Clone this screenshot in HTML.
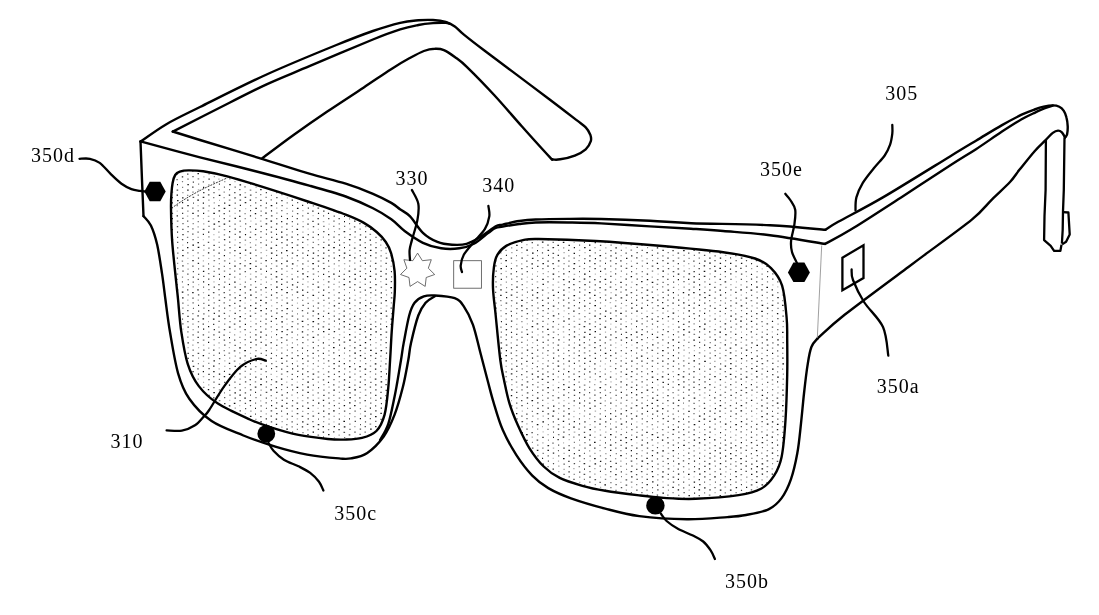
<!DOCTYPE html><html><head><meta charset="utf-8"><style>html,body{margin:0;padding:0;background:#fff}svg{display:block;will-change:transform}text{font-family:"Liberation Serif",serif;font-size:20px;letter-spacing:1px;fill:#000}</style></head><body>
<svg width="1099" height="615" viewBox="0 0 1099 615">
<rect width="1099" height="615" fill="#fff"/>
<path d="M171.4 208.4h1.4M176.7 211.0h1.0M177.2 295.1h1.0M182.3 245.2h1.0M182.5 329.1h1.0M186.9 216.0h1.4M187.4 258.3h1.0M187.2 263.7h1.4M187.3 269.0h1.6M187.2 300.1h1.2M187.3 305.3h1.6M187.5 347.5h1.2M192.6 255.5h1.2M192.4 329.6h1.6M192.5 340.2h1.6M197.8 189.8h1.6M197.5 205.7h1.2M197.4 226.9h1.6M198.2 284.5h1.0M198.0 347.6h1.2M197.4 379.2h1.6M197.6 384.7h1.2M203.3 176.8h1.2M202.9 218.6h1.0M203.0 223.9h1.4M202.8 239.6h1.0M203.1 250.2h1.4M202.6 255.7h1.6M202.8 260.9h1.2M202.9 292.6h1.2M203.0 297.9h1.6M202.9 345.0h1.4M203.2 361.3h1.0M202.8 376.7h1.4M203.1 382.4h1.0M207.7 210.8h1.6M207.8 216.3h1.6M208.1 258.4h1.2M208.0 321.7h1.0M208.0 332.0h1.6M208.0 384.9h1.4M213.4 234.5h1.0M213.3 239.8h1.4M213.4 255.9h1.6M213.4 281.8h1.2M213.4 345.0h1.6M218.2 179.2h1.4M218.2 189.7h1.6M219.0 200.4h1.0M218.3 342.9h1.6M218.7 347.9h1.0M218.5 368.9h1.4M218.8 395.5h1.4M223.4 197.5h1.6M224.2 360.9h1.2M224.2 366.4h1.2M223.4 387.1h1.6M229.1 216.1h1.4M229.2 258.5h1.0M228.7 279.1h1.4M229.4 310.6h1.2M229.0 332.3h1.6M228.8 347.6h1.2M229.3 400.4h1.0M234.3 181.5h1.4M234.5 213.3h1.2M234.6 239.9h1.2M234.1 245.0h1.6M234.2 308.2h1.4M234.3 371.4h1.6M234.0 376.8h1.2M239.8 226.4h1.4M239.4 279.0h1.0M239.5 284.4h1.6M239.7 331.8h1.4M239.2 363.8h1.2M239.3 405.7h1.0M244.5 192.7h1.6M245.2 208.5h1.0M244.7 244.8h1.0M244.7 255.4h1.6M245.1 276.5h1.0M244.6 303.2h1.0M244.7 313.7h1.4M244.7 413.7h1.2M250.4 221.0h1.0M249.9 274.0h1.4M250.3 300.1h1.0M250.3 321.3h1.0M249.9 353.4h1.2M255.0 318.9h1.6M254.8 371.6h1.4M259.9 221.0h1.6M260.6 247.7h1.0M260.4 263.4h1.6M260.5 274.0h1.6M260.6 279.5h1.0M260.3 348.0h1.0M260.8 358.7h1.0M260.1 363.6h1.6M260.4 374.3h1.4M260.1 400.8h1.2M265.8 250.3h1.4M266.1 255.5h1.0M265.5 292.4h1.4M265.4 339.7h1.2M265.6 413.9h1.4M270.8 279.1h1.4M271.1 305.9h1.2M271.1 331.7h1.0M270.5 374.4h1.4M276.1 208.1h1.2M276.1 350.2h1.2M275.6 361.3h1.4M276.4 376.5h1.0M280.9 347.8h1.6M281.2 416.3h1.4M281.4 421.6h1.6M286.8 197.8h1.0M286.3 208.3h1.4M286.3 271.4h1.4M286.5 276.6h1.4M286.6 324.2h1.0M286.9 376.7h1.0M286.2 382.2h1.2M291.3 274.3h1.4M291.4 337.5h1.4M291.5 411.0h1.4M296.6 265.8h1.2M296.9 303.0h1.0M296.6 361.0h1.2M296.8 382.1h1.0M297.1 397.8h1.2M296.7 418.8h1.4M302.3 210.7h1.2M302.5 221.6h1.2M302.2 232.2h1.4M301.8 400.6h1.6M307.6 229.0h1.0M307.3 244.8h1.0M307.6 266.4h1.0M307.1 271.5h1.6M307.4 281.9h1.2M307.2 329.7h1.6M307.4 345.5h1.0M307.1 366.1h1.2M312.6 215.7h1.0M312.3 289.8h1.4M312.5 300.5h1.2M312.3 369.2h1.6M312.3 411.3h1.4M317.8 229.3h1.0M317.7 239.5h1.4M317.8 340.1h1.4M317.7 398.0h1.6M317.6 408.4h1.0M322.8 221.6h1.6M323.0 279.5h1.2M323.3 284.6h1.0M323.3 337.1h1.2M323.1 363.4h1.6M322.6 368.7h1.4M328.6 224.0h1.0M328.2 308.3h1.2M328.4 339.7h1.2M328.2 355.4h1.6M328.3 408.6h1.6M328.3 419.2h1.6M333.7 268.8h1.0M333.2 284.4h1.6M333.6 295.2h1.4M333.6 300.5h1.4M333.8 326.7h1.2M333.5 421.8h1.0M333.9 437.6h1.0M338.2 213.2h1.6M338.3 265.8h1.4M338.6 313.6h1.6M338.9 334.5h1.4M338.4 435.0h1.6M343.9 263.5h1.4M344.1 268.9h1.2M344.0 305.5h1.2M343.6 332.0h1.2M343.8 358.6h1.0M344.2 416.4h1.0M354.3 242.6h1.2M354.5 253.1h1.2M354.6 295.3h1.2M354.6 332.1h1.0M354.4 379.8h1.4M354.1 416.6h1.6M354.6 437.4h1.0M359.5 282.1h1.4M359.5 297.9h1.6M359.7 392.4h1.4M359.9 413.9h1.2M364.9 406.1h1.4M370.2 297.5h1.0M369.7 319.0h1.2M370.1 360.7h1.0M369.7 377.2h1.2M375.5 300.4h1.0M375.1 337.4h1.0M375.3 342.6h1.4M380.5 250.6h1.6M380.2 281.7h1.2M380.3 308.4h1.4M380.6 361.2h1.2M385.4 290.1h1.6M385.8 305.9h1.6M385.8 321.8h1.2M385.3 369.1h1.6M390.6 266.3h1.2M391.1 329.4h1.4M495.3 297.5h1.0M500.1 252.9h1.6M500.7 263.4h1.2M500.1 310.6h1.6M500.5 316.1h1.4M505.5 271.4h1.2M505.5 366.3h1.4M505.8 381.9h1.4M510.9 263.3h1.2M511.0 400.7h1.0M515.8 260.5h1.4M516.0 324.3h1.4M516.4 387.0h1.2M515.9 408.2h1.6M521.3 252.6h1.2M521.7 411.0h1.2M526.2 244.7h1.4M526.8 255.3h1.6M526.8 277.0h1.0M526.4 281.9h1.4M526.3 287.5h1.2M526.8 323.9h1.0M526.2 366.2h1.6M526.2 423.9h1.4M531.7 247.8h1.4M532.0 274.1h1.0M532.1 342.5h1.2M531.6 437.2h1.4M537.0 239.7h1.0M537.1 271.7h1.0M536.6 281.9h1.6M536.6 318.5h1.6M537.4 334.9h1.2M541.9 247.6h1.6M542.2 358.4h1.6M542.1 363.7h1.6M541.9 384.5h1.6M542.5 416.2h1.4M542.0 426.5h1.0M542.6 431.8h1.0M542.2 442.9h1.4M547.6 271.5h1.4M547.3 287.5h1.0M547.7 292.8h1.4M547.5 403.4h1.0M547.5 434.5h1.2M552.5 311.2h1.2M552.6 385.0h1.0M552.3 400.4h1.6M552.8 448.0h1.4M552.7 458.3h1.0M558.0 250.2h1.2M557.7 266.1h1.6M558.1 271.7h1.2M557.6 282.1h1.6M558.1 287.3h1.4M557.4 308.5h1.6M557.6 318.7h1.6M558.3 382.3h1.0M558.1 392.3h1.0M558.1 403.0h1.6M558.1 413.4h1.0M557.9 461.1h1.2M558.0 466.1h1.6M558.1 471.6h1.4M563.4 252.7h1.4M563.6 310.9h1.0M563.2 316.5h1.0M562.8 331.9h1.4M563.0 337.1h1.6M563.3 342.4h1.2M563.3 348.1h1.0M563.4 400.6h1.2M563.1 442.9h1.0M563.4 453.3h1.4M563.3 469.3h1.6M568.3 276.9h1.0M568.6 292.2h1.0M568.5 381.8h1.4M568.6 439.7h1.2M573.5 242.4h1.4M573.6 274.3h1.6M573.5 321.3h1.6M573.4 405.6h1.4M573.5 411.3h1.2M573.3 416.6h1.2M573.7 432.0h1.6M573.2 468.7h1.4M578.9 250.3h1.4M578.3 260.6h1.6M579.0 276.7h1.0M578.7 319.1h1.6M578.8 329.0h1.2M579.1 413.7h1.2M579.0 482.4h1.4M584.4 252.6h1.2M584.2 310.7h1.2M584.3 379.4h1.4M588.9 319.0h1.4M589.0 366.4h1.2M589.0 418.7h1.2M589.5 424.6h1.2M589.6 460.9h1.0M594.8 274.2h1.0M594.7 379.7h1.2M594.7 411.2h1.4M594.4 431.9h1.2M594.0 437.4h1.6M594.1 453.3h1.6M599.3 292.6h1.4M599.6 366.1h1.2M599.4 371.7h1.6M599.6 429.8h1.2M599.6 440.3h1.2M599.4 450.6h1.4M600.1 477.1h1.0M600.0 487.3h1.2M604.6 242.6h1.4M605.1 247.8h1.4M605.1 274.1h1.4M604.7 305.8h1.2M604.9 332.1h1.2M604.8 363.9h1.0M605.1 432.1h1.4M604.9 474.6h1.6M610.1 271.5h1.4M610.5 292.5h1.2M609.7 302.7h1.4M610.4 308.0h1.2M610.4 324.0h1.0M609.7 366.4h1.6M610.2 371.5h1.2M610.4 381.9h1.2M610.0 408.5h1.2M609.8 476.6h1.4M615.0 279.3h1.2M615.2 342.8h1.2M615.3 347.5h1.0M615.6 373.8h1.2M615.4 384.6h1.6M615.3 421.8h1.6M620.5 255.7h1.4M620.3 276.7h1.2M620.4 308.1h1.4M620.8 345.0h1.0M620.6 356.0h1.0M620.9 429.3h1.2M620.3 482.3h1.2M620.4 493.1h1.0M625.6 247.9h1.0M625.5 305.6h1.6M625.6 321.5h1.0M625.9 379.1h1.6M625.6 458.4h1.4M625.6 474.3h1.6M630.8 261.1h1.2M631.2 282.1h1.4M630.6 287.4h1.4M630.9 319.0h1.2M631.1 329.1h1.0M631.4 345.2h1.0M631.0 355.8h1.0M631.1 403.2h1.6M631.0 487.2h1.4M636.4 316.2h1.0M636.4 411.2h1.4M636.4 421.9h1.0M636.4 442.8h1.0M636.1 463.9h1.4M641.6 260.9h1.6M641.4 276.7h1.6M641.5 450.7h1.4M646.9 268.6h1.4M646.5 284.6h1.4M646.5 311.0h1.0M646.8 395.5h1.6M647.1 416.2h1.0M646.5 426.8h1.6M646.7 437.5h1.2M651.6 277.0h1.4M651.6 329.3h1.2M652.2 339.6h1.2M651.8 356.0h1.2M651.9 445.4h1.6M657.6 274.2h1.0M657.2 295.0h1.4M656.7 310.7h1.6M657.2 368.9h1.2M656.9 374.2h1.4M657.5 385.0h1.0M657.0 442.9h1.6M662.3 345.4h1.0M662.5 392.9h1.2M662.7 445.5h1.2M662.4 466.4h1.6M662.4 481.9h1.2M667.5 274.0h1.4M667.0 311.2h1.6M667.6 321.2h1.4M667.8 326.8h1.4M667.9 337.2h1.2M667.4 405.5h1.4M667.6 453.3h1.6M672.9 266.4h1.2M672.6 308.5h1.2M672.6 324.4h1.0M672.9 329.5h1.0M672.4 371.5h1.4M673.2 466.1h1.0M678.0 284.7h1.0M678.2 289.6h1.0M677.8 310.7h1.0M677.6 395.0h1.6M678.1 416.7h1.0M683.5 265.9h1.0M683.2 297.8h1.0M683.3 350.2h1.6M683.4 355.8h1.2M682.8 408.8h1.4M683.2 450.4h1.0M683.5 477.2h1.0M688.6 268.6h1.2M688.7 337.1h1.0M688.1 347.5h1.4M688.1 358.1h1.6M688.3 405.9h1.2M688.2 469.1h1.6M688.5 490.0h1.4M693.7 297.8h1.0M693.8 350.7h1.0M693.4 419.3h1.2M693.6 476.9h1.0M699.3 374.1h1.0M698.8 406.0h1.4M698.9 411.0h1.0M699.0 432.3h1.2M698.7 448.0h1.2M704.1 350.5h1.2M704.0 366.3h1.0M703.9 392.8h1.6M703.8 397.8h1.6M704.2 450.3h1.4M704.2 497.7h1.4M709.2 315.9h1.4M709.3 326.7h1.2M709.4 400.3h1.4M709.6 405.9h1.0M709.5 484.5h1.2M714.5 282.3h1.6M714.3 302.7h1.4M714.4 313.7h1.4M714.9 324.4h1.0M714.6 371.5h1.0M714.6 382.1h1.2M714.7 434.7h1.0M714.5 492.6h1.2M719.4 316.2h1.4M719.8 342.7h1.6M719.2 353.3h1.6M719.8 389.7h1.0M720.1 426.8h1.2M720.1 479.6h1.2M724.9 255.4h1.6M725.2 319.1h1.2M724.7 360.9h1.6M724.7 382.3h1.4M724.7 413.4h1.4M725.1 418.9h1.0M725.2 471.9h1.4M724.5 487.2h1.6M730.2 284.5h1.4M730.2 295.2h1.2M730.3 342.8h1.6M730.3 400.3h1.4M730.1 431.9h1.0M729.7 469.4h1.6M735.4 276.9h1.0M735.9 281.8h1.0M735.1 287.4h1.6M735.2 308.4h1.0M735.6 371.3h1.2M735.2 387.3h1.4M734.9 440.1h1.6M740.7 295.0h1.2M741.0 332.1h1.0M740.5 342.3h1.4M740.5 400.4h1.6M746.1 276.4h1.0M745.5 381.8h1.4M745.6 413.6h1.4M745.9 482.0h1.2M750.8 374.0h1.6M751.1 379.6h1.6M751.2 395.2h1.2M751.1 405.8h1.0M751.3 416.3h1.2M756.1 339.8h1.6M756.0 382.4h1.4M756.0 397.9h1.2M756.4 403.3h1.6M756.2 413.6h1.0M756.3 418.9h1.0M756.5 487.1h1.4M761.4 263.6h1.6M761.7 268.8h1.0M761.3 353.3h1.4M761.6 379.2h1.2M761.3 426.6h1.4M761.3 479.8h1.6M766.9 303.3h1.2M766.7 318.5h1.0M766.5 366.5h1.0M766.7 387.2h1.2M766.5 429.8h1.4M772.4 284.8h1.0M771.8 316.0h1.2M771.8 331.8h1.0M771.9 358.6h1.6M771.8 384.4h1.6M771.5 468.9h1.6M777.3 286.9h1.0M777.3 324.0h1.6M777.3 387.2h1.4M777.1 466.6h1.0M781.9 295.2h1.6M782.2 337.1h1.2M782.7 400.8h1.0" stroke="#111" stroke-width="1.25" opacity="0.35" fill="none"/>
<path d="M171.5 187.1h1.0M172.0 192.2h1.2M171.3 234.5h1.4M176.3 179.5h1.6M176.8 221.2h1.6M177.1 253.0h1.4M177.2 263.3h1.0M176.6 274.0h1.6M176.8 279.4h1.0M176.6 284.7h1.4M181.9 181.7h1.2M182.0 187.4h1.2M182.4 192.7h1.0M182.2 223.7h1.6M181.7 261.2h1.4M181.9 277.0h1.2M182.4 287.1h1.2M182.0 334.6h1.0M187.1 195.3h1.2M187.3 211.0h1.2M187.4 226.7h1.6M186.9 237.3h1.4M187.1 252.8h1.4M187.6 279.6h1.2M187.5 294.8h1.4M187.1 321.7h1.6M187.2 331.9h1.4M187.0 363.5h1.4M192.0 171.1h1.6M192.6 218.6h1.0M192.6 223.7h1.2M192.1 228.9h1.6M192.3 239.5h1.6M192.6 286.9h1.2M192.2 313.7h1.4M192.4 324.2h1.2M192.4 345.1h1.0M192.4 350.2h1.6M197.6 178.9h1.6M198.0 184.2h1.2M197.6 237.4h1.0M197.4 252.8h1.4M197.7 300.2h1.0M197.8 321.7h1.4M198.1 358.0h1.0M197.8 363.7h1.2M203.1 245.3h1.6M202.6 266.1h1.6M203.1 303.4h1.4M203.2 308.1h1.4M202.8 340.1h1.6M202.9 387.3h1.6M208.4 173.8h1.4M208.3 184.8h1.2M208.3 200.2h1.2M208.3 226.4h1.4M208.2 236.9h1.4M208.1 248.0h1.6M207.9 273.7h1.6M208.2 289.7h1.4M208.2 316.2h1.2M208.3 348.1h1.0M208.6 353.4h1.0M207.9 358.0h1.4M208.2 363.3h1.2M213.8 176.7h1.0M213.0 197.5h1.4M213.7 202.9h1.0M213.5 218.8h1.0M213.5 260.6h1.6M213.2 266.4h1.2M213.5 271.4h1.4M213.2 297.8h1.0M213.5 302.8h1.4M213.5 339.7h1.2M213.2 382.0h1.6M213.2 387.6h1.4M219.0 216.1h1.0M218.6 226.3h1.6M218.4 232.1h1.0M218.6 237.2h1.0M218.6 242.4h1.0M218.4 258.6h1.6M218.8 263.5h1.0M218.5 294.8h1.4M218.7 305.9h1.2M218.3 321.4h1.6M218.4 327.0h1.0M218.6 363.7h1.4M218.8 389.9h1.4M218.8 400.5h1.6M223.7 176.4h1.0M224.3 181.7h1.0M223.6 192.2h1.2M223.8 229.5h1.4M223.7 234.9h1.4M223.9 245.1h1.4M223.9 260.8h1.6M223.8 271.2h1.4M224.1 282.1h1.4M224.0 318.6h1.6M224.1 324.1h1.2M224.0 392.9h1.0M228.8 200.1h1.6M229.3 252.8h1.4M229.4 268.5h1.2M228.9 290.0h1.4M229.1 300.1h1.4M228.8 316.1h1.2M228.5 353.0h1.6M229.2 358.1h1.0M229.1 368.7h1.4M229.0 390.3h1.4M229.2 395.1h1.6M234.4 187.1h1.6M234.5 208.4h1.2M234.3 224.1h1.6M234.3 255.5h1.0M234.3 261.2h1.2M234.0 271.2h1.4M234.4 292.5h1.0M234.0 318.6h1.6M234.5 329.3h1.0M234.2 334.8h1.0M234.7 356.0h1.0M233.8 361.0h1.6M234.1 382.0h1.6M234.7 408.2h1.0M239.4 221.2h1.6M239.2 242.6h1.6M239.6 257.9h1.4M239.2 310.7h1.4M239.4 337.4h1.0M239.8 342.7h1.0M239.3 352.8h1.0M239.5 379.2h1.2M245.1 181.8h1.0M244.2 186.8h1.6M244.5 213.5h1.2M244.6 218.6h1.2M245.0 228.9h1.0M244.7 240.1h1.4M244.6 260.7h1.2M244.5 318.5h1.4M244.9 334.9h1.0M244.4 339.7h1.6M244.7 344.9h1.2M244.6 371.4h1.2M244.6 377.0h1.4M244.7 387.5h1.0M250.2 184.4h1.0M249.7 190.0h1.6M250.0 205.6h1.2M249.9 232.1h1.4M249.8 242.5h1.0M249.9 247.4h1.4M249.9 279.2h1.4M250.2 284.8h1.4M249.7 310.9h1.2M250.2 326.7h1.2M249.8 332.3h1.0M250.3 411.1h1.2M255.6 187.1h1.0M255.5 197.6h1.0M255.1 218.4h1.0M255.6 239.7h1.0M255.1 245.1h1.2M255.4 255.6h1.4M255.2 261.0h1.6M255.2 271.6h1.6M255.2 292.1h1.6M254.7 313.3h1.6M255.3 323.9h1.6M255.0 329.5h1.6M255.1 366.6h1.4M254.8 381.9h1.4M255.4 419.3h1.0M260.4 215.7h1.4M260.2 231.6h1.6M260.1 237.4h1.6M260.1 242.6h1.6M260.6 252.7h1.0M260.5 258.1h1.6M260.4 284.4h1.2M260.3 289.8h1.6M260.7 294.9h1.0M260.6 316.1h1.0M260.6 353.3h1.4M260.6 390.0h1.0M260.4 411.0h1.4M265.8 240.0h1.2M265.9 282.0h1.0M265.5 297.4h1.6M265.3 371.5h1.6M265.6 387.0h1.4M265.4 402.8h1.6M270.9 195.3h1.0M270.6 199.9h1.4M270.9 242.1h1.2M271.2 263.6h1.0M270.4 268.5h1.6M270.6 284.5h1.0M270.7 300.1h1.0M271.0 337.1h1.0M270.7 348.1h1.0M276.0 192.5h1.4M276.3 213.2h1.2M276.0 218.5h1.4M275.9 266.0h1.6M276.2 308.5h1.6M276.1 324.4h1.2M276.4 339.9h1.2M276.2 371.3h1.0M275.7 398.1h1.2M281.2 194.7h1.4M281.0 210.5h1.6M281.3 226.8h1.2M281.6 247.9h1.2M281.4 258.2h1.2M281.4 295.3h1.0M281.6 300.2h1.0M281.0 305.5h1.2M280.9 374.1h1.6M281.4 427.1h1.0M286.6 202.8h1.2M286.6 213.6h1.2M286.1 234.8h1.6M286.3 319.1h1.2M286.7 345.0h1.0M286.8 350.2h1.2M286.5 366.4h1.6M286.6 419.1h1.4M286.1 424.5h1.4M292.0 211.1h1.2M291.8 226.3h1.0M291.6 258.1h1.2M291.3 289.7h1.4M291.9 294.8h1.0M291.6 300.2h1.4M291.8 311.0h1.2M291.7 321.6h1.6M291.9 342.8h1.0M291.5 352.8h1.4M291.3 384.8h1.6M291.5 395.0h1.0M291.5 426.8h1.4M297.1 239.5h1.6M297.2 260.6h1.2M297.0 308.3h1.4M297.0 313.9h1.0M297.1 329.1h1.2M297.1 334.8h1.0M296.5 339.7h1.4M297.1 344.8h1.0M297.0 350.6h1.2M296.8 429.3h1.2M302.0 215.8h1.4M302.2 284.4h1.2M302.1 300.3h1.2M302.1 316.1h1.6M302.3 379.3h1.4M302.3 411.4h1.0M307.5 219.0h1.4M306.9 239.7h1.6M307.4 261.2h1.4M307.4 286.9h1.0M307.3 297.9h1.0M307.4 303.3h1.6M307.1 319.1h1.4M307.4 324.5h1.4M306.9 334.8h1.6M307.3 339.9h1.2M307.3 413.6h1.6M307.3 429.8h1.2M312.7 205.9h1.4M312.6 232.2h1.4M312.6 242.4h1.4M312.7 274.0h1.6M312.4 315.9h1.4M312.3 326.6h1.6M312.6 358.2h1.4M312.4 390.2h1.0M312.5 395.0h1.2M312.3 405.7h1.6M312.1 421.6h1.6M317.8 244.7h1.4M317.7 250.6h1.2M317.7 271.6h1.2M318.0 276.3h1.0M318.0 292.4h1.4M317.8 298.1h1.0M317.8 360.9h1.2M317.6 366.3h1.2M317.6 371.8h1.6M317.6 377.1h1.6M317.8 382.0h1.0M317.4 392.8h1.6M317.5 435.0h1.6M323.1 226.3h1.6M322.9 237.1h1.0M322.8 263.3h1.6M323.2 300.4h1.4M323.4 305.9h1.0M323.2 311.2h1.2M323.3 321.6h1.2M323.0 358.6h1.4M323.3 374.4h1.0M323.3 384.7h1.2M323.1 390.1h1.6M323.2 421.5h1.0M328.1 229.0h1.0M328.2 239.8h1.2M328.2 266.4h1.4M328.1 271.5h1.2M328.2 292.5h1.6M328.5 318.8h1.2M328.3 324.0h1.4M328.2 334.3h1.4M328.3 350.8h1.2M328.4 366.4h1.2M328.5 387.2h1.0M328.1 392.8h1.6M328.0 398.2h1.6M327.9 429.5h1.4M333.1 226.4h1.4M333.9 231.7h1.0M333.7 263.8h1.2M333.8 279.1h1.2M333.4 289.8h1.0M333.7 311.0h1.0M333.2 337.5h1.2M333.4 358.5h1.6M333.4 400.5h1.2M333.6 416.4h1.0M338.7 228.9h1.4M338.3 234.5h1.6M338.7 282.2h1.0M338.7 286.9h1.0M338.4 308.3h1.2M338.5 350.1h1.0M338.7 381.9h1.0M338.8 392.4h1.0M338.7 398.1h1.4M338.7 413.6h1.0M344.1 237.3h1.2M343.5 242.5h1.4M343.9 289.6h1.0M343.7 337.3h1.2M343.9 353.1h1.0M344.0 368.9h1.4M343.8 395.3h1.2M343.8 400.3h1.0M349.1 218.9h1.0M349.5 229.0h1.0M349.1 250.3h1.2M348.9 260.9h1.6M349.1 266.2h1.0M349.0 292.5h1.0M349.2 308.5h1.6M349.3 313.9h1.0M348.8 329.4h1.6M349.5 345.5h1.0M349.0 350.7h1.4M349.0 355.8h1.4M349.2 371.8h1.2M349.1 413.5h1.4M349.2 424.2h1.4M354.4 237.2h1.2M354.3 263.2h1.0M354.5 305.7h1.0M354.2 321.2h1.4M354.4 358.4h1.6M354.3 374.1h1.2M354.1 385.0h1.6M354.3 395.0h1.6M354.4 426.6h1.0M359.8 266.1h1.4M359.7 292.2h1.4M359.3 334.4h1.4M359.4 339.8h1.0M359.8 360.8h1.0M359.5 371.2h1.2M359.4 402.9h1.4M359.8 408.5h1.2M364.9 226.6h1.6M364.5 242.7h1.4M365.0 273.7h1.4M364.6 284.3h1.4M365.0 295.2h1.4M364.9 300.3h1.4M364.8 311.0h1.4M365.2 316.5h1.0M364.9 321.4h1.2M364.6 353.3h1.0M365.0 363.6h1.4M364.8 389.8h1.4M364.9 395.4h1.6M364.4 432.0h1.6M369.5 234.4h1.6M370.2 261.1h1.0M369.8 313.6h1.0M369.8 366.2h1.4M369.7 371.6h1.4M370.0 398.1h1.2M369.6 424.2h1.6M375.4 242.5h1.2M375.1 257.9h1.6M374.8 295.1h1.6M374.9 315.9h1.6M374.9 321.8h1.4M375.4 348.0h1.0M375.1 400.4h1.6M380.3 245.1h1.0M380.4 255.8h1.4M380.5 260.8h1.0M380.4 266.1h1.2M380.7 287.1h1.4M380.4 318.8h1.4M380.3 344.9h1.0M380.3 356.0h1.2M385.6 253.3h1.0M386.1 294.9h1.0M385.7 337.4h1.2M385.6 358.5h1.0M385.5 379.7h1.0M390.8 302.9h1.0M391.1 313.6h1.4M495.3 260.8h1.2M495.3 281.8h1.4M495.4 286.9h1.6M495.3 303.1h1.4M495.6 313.4h1.0M500.3 284.9h1.2M500.1 300.6h1.4M500.7 305.3h1.0M500.3 327.1h1.4M500.4 337.2h1.4M500.2 353.2h1.6M505.3 250.4h1.4M505.9 276.9h1.2M505.8 282.0h1.0M506.1 287.5h1.0M505.6 308.6h1.2M505.6 319.1h1.2M505.5 387.3h1.0M511.1 247.8h1.2M511.4 252.7h1.0M511.2 284.6h1.2M510.9 300.6h1.6M510.9 305.8h1.0M510.7 342.9h1.0M511.3 363.9h1.0M511.0 379.6h1.6M511.4 384.6h1.0M511.0 405.8h1.6M516.0 250.4h1.6M516.0 255.7h1.0M516.1 265.9h1.4M516.3 281.6h1.6M516.1 308.5h1.6M516.0 313.3h1.2M516.4 318.8h1.2M516.3 339.9h1.6M515.8 350.7h1.4M515.7 355.5h1.6M516.0 376.7h1.2M515.8 382.0h1.4M521.3 263.8h1.0M521.7 295.1h1.2M521.1 316.3h1.4M521.3 321.6h1.2M521.8 327.0h1.0M521.2 337.3h1.6M521.0 342.4h1.6M521.6 347.6h1.0M521.3 353.0h1.6M521.8 379.5h1.0M521.8 395.3h1.0M526.3 266.5h1.6M526.8 297.7h1.0M526.4 302.7h1.2M526.3 318.5h1.4M526.2 329.6h1.6M526.9 340.2h1.0M526.8 345.1h1.2M526.8 355.7h1.2M526.2 377.1h1.4M527.1 408.3h1.0M531.4 279.3h1.6M531.8 284.3h1.0M531.4 300.3h1.6M531.4 305.6h1.6M531.9 310.8h1.0M532.2 315.9h1.0M531.6 347.6h1.4M531.8 368.7h1.0M532.0 384.5h1.6M532.1 395.3h1.2M532.1 405.6h1.0M532.2 416.2h1.2M532.1 426.8h1.0M531.9 442.4h1.0M537.0 255.7h1.0M536.9 276.4h1.0M537.0 302.8h1.2M536.9 345.3h1.2M536.8 356.0h1.6M537.4 361.1h1.0M537.0 387.1h1.6M537.4 418.9h1.0M537.2 429.2h1.0M537.1 434.7h1.2M537.2 445.1h1.2M542.0 258.4h1.6M542.1 268.6h1.6M542.7 273.7h1.0M542.1 295.0h1.0M542.0 331.8h1.4M542.3 337.2h1.4M542.1 353.0h1.2M541.9 368.8h1.6M542.1 395.4h1.0M542.0 400.3h1.4M542.5 453.3h1.4M547.5 276.7h1.0M547.3 313.4h1.4M547.3 324.1h1.0M547.2 355.4h1.2M547.6 360.8h1.4M547.8 424.5h1.2M547.9 440.0h1.0M547.4 466.6h1.4M552.6 284.8h1.0M553.0 300.4h1.0M552.8 332.0h1.6M552.9 347.8h1.0M552.8 353.2h1.6M552.4 363.3h1.4M552.9 369.2h1.2M552.2 395.5h1.6M552.8 426.9h1.4M558.1 276.5h1.6M557.8 297.8h1.4M558.2 324.4h1.0M557.7 329.4h1.0M557.7 334.6h1.2M558.0 355.9h1.4M557.7 376.8h1.0M558.1 408.6h1.4M557.8 424.5h1.6M557.9 434.5h1.6M563.1 247.9h1.2M563.5 263.6h1.2M562.8 326.9h1.4M563.3 353.3h1.0M563.1 363.8h1.2M562.8 379.7h1.4M563.1 411.0h1.6M562.9 427.1h1.4M563.3 474.4h1.6M568.4 255.8h1.0M568.0 266.2h1.6M568.2 313.5h1.2M568.6 355.5h1.4M568.7 366.2h1.2M568.2 376.9h1.6M568.4 403.4h1.0M568.3 429.6h1.6M573.4 258.0h1.6M573.6 289.9h1.4M573.5 316.3h1.0M573.7 326.8h1.6M573.9 342.8h1.0M573.5 353.0h1.4M573.5 358.4h1.2M573.8 368.8h1.2M573.8 442.3h1.2M573.5 447.9h1.4M573.6 474.4h1.2M578.9 255.7h1.2M578.9 266.3h1.4M578.8 281.7h1.6M578.8 298.1h1.4M578.5 313.7h1.6M578.7 334.7h1.0M578.4 360.9h1.6M579.2 366.0h1.2M578.5 371.6h1.6M578.9 408.2h1.0M578.3 429.2h1.6M579.0 440.0h1.0M579.3 445.2h1.0M579.3 461.4h1.0M579.1 477.0h1.2M584.1 258.6h1.6M583.7 268.6h1.4M584.2 316.5h1.4M583.8 352.8h1.6M583.8 385.0h1.6M584.0 410.9h1.2M583.8 416.1h1.0M584.2 442.6h1.4M583.8 479.4h1.2M589.1 308.5h1.0M588.8 313.3h1.6M588.8 345.2h1.6M588.9 350.8h1.4M589.0 355.6h1.6M589.4 377.0h1.4M589.0 381.9h1.4M589.0 387.4h1.2M589.3 398.1h1.2M589.2 450.8h1.0M589.4 456.1h1.4M589.3 471.5h1.4M589.0 482.1h1.6M589.1 487.3h1.0M594.5 247.7h1.0M594.6 252.9h1.4M594.3 290.0h1.6M594.6 310.9h1.2M594.7 321.8h1.4M594.3 384.6h1.0M594.3 416.5h1.0M594.4 427.1h1.2M594.4 468.7h1.0M594.4 474.0h1.0M594.7 484.6h1.2M599.5 250.3h1.2M599.5 260.8h1.6M599.5 266.1h1.2M599.9 276.7h1.2M599.9 302.9h1.2M599.3 334.4h1.6M600.0 355.7h1.0M600.0 361.1h1.2M599.8 381.8h1.6M599.9 408.7h1.0M599.6 413.8h1.4M599.8 435.0h1.4M599.4 445.4h1.2M599.9 455.8h1.2M599.4 466.2h1.6M605.1 253.3h1.2M605.2 258.0h1.2M604.9 295.0h1.4M605.0 321.2h1.4M604.8 348.0h1.2M605.0 358.4h1.6M604.8 369.0h1.0M604.6 374.2h1.4M605.2 379.3h1.2M604.8 384.6h1.6M604.7 400.8h1.0M604.7 405.6h1.0M604.7 410.7h1.2M605.0 426.7h1.2M605.4 453.5h1.0M604.8 479.3h1.4M605.0 489.9h1.0M610.1 329.1h1.0M609.7 339.9h1.6M610.0 345.1h1.6M609.7 392.7h1.4M610.2 398.1h1.2M610.0 423.9h1.0M610.2 482.5h1.4M610.2 487.6h1.4M615.8 242.5h1.0M615.0 268.8h1.4M615.2 284.5h1.0M615.4 300.6h1.0M615.4 315.9h1.4M615.4 327.1h1.0M615.7 379.2h1.0M615.7 400.4h1.0M615.5 405.9h1.2M615.8 431.9h1.0M615.0 448.1h1.6M615.7 453.5h1.2M615.2 458.5h1.0M615.3 479.4h1.6M615.2 490.4h1.6M620.8 271.2h1.2M620.9 303.4h1.2M620.2 324.1h1.6M620.5 376.6h1.0M620.4 387.0h1.2M620.7 408.8h1.0M620.2 450.7h1.4M620.4 461.0h1.0M620.3 466.4h1.2M621.0 476.7h1.0M626.2 263.5h1.0M625.4 311.0h1.4M625.9 347.7h1.2M625.7 358.3h1.2M626.1 389.7h1.0M625.9 400.4h1.6M625.7 405.9h1.4M626.1 427.2h1.2M625.9 453.5h1.0M626.1 469.3h1.0M625.8 490.0h1.0M630.5 244.8h1.6M630.5 250.1h1.6M631.0 297.5h1.0M631.1 313.3h1.2M630.9 323.9h1.2M631.0 366.0h1.2M631.4 382.2h1.2M631.3 397.6h1.0M631.1 435.0h1.2M631.1 445.6h1.6M630.8 482.2h1.6M636.1 268.7h1.0M635.8 273.8h1.6M635.7 379.5h1.6M636.0 427.1h1.6M636.1 484.7h1.2M641.3 245.3h1.4M641.2 255.9h1.0M641.8 266.0h1.2M641.6 271.6h1.4M641.1 292.6h1.4M641.6 303.0h1.2M641.3 313.4h1.0M641.5 318.7h1.4M641.7 345.5h1.2M641.6 387.1h1.0M641.7 423.9h1.0M641.3 455.8h1.0M641.5 476.9h1.2M647.1 247.5h1.0M646.5 258.6h1.0M646.3 326.5h1.2M646.6 342.6h1.0M646.5 352.8h1.2M646.7 368.9h1.2M646.4 385.0h1.4M646.9 400.3h1.0M646.7 469.0h1.4M646.4 474.4h1.4M646.3 490.2h1.4M651.7 250.4h1.2M652.0 260.6h1.2M651.8 271.1h1.4M651.5 302.7h1.6M652.1 308.2h1.2M651.6 313.3h1.6M652.3 429.2h1.0M657.2 258.4h1.2M656.9 279.6h1.6M656.6 284.4h1.6M656.8 289.5h1.2M657.1 332.2h1.2M657.1 347.8h1.4M657.0 389.9h1.2M657.1 427.2h1.0M656.7 432.5h1.4M657.3 468.8h1.4M657.4 474.5h1.0M657.2 479.9h1.2M662.6 266.4h1.0M662.0 286.9h1.4M662.4 313.2h1.2M662.6 324.3h1.0M662.3 371.8h1.2M662.7 397.7h1.0M662.6 424.2h1.2M661.9 429.6h1.6M661.8 456.0h1.6M662.4 487.3h1.6M667.2 247.4h1.6M667.5 252.7h1.4M667.1 300.1h1.6M667.2 368.6h1.6M667.5 389.9h1.6M667.6 432.3h1.0M667.7 447.9h1.2M667.5 485.2h1.4M667.9 490.1h1.0M672.6 255.4h1.0M672.9 287.3h1.4M673.0 376.6h1.0M672.6 381.9h1.2M672.4 392.5h1.4M672.9 397.8h1.2M672.9 408.6h1.2M672.7 424.6h1.2M672.7 440.1h1.2M672.9 471.4h1.2M672.5 492.7h1.2M673.1 497.8h1.0M677.7 258.1h1.6M677.8 295.0h1.2M677.9 316.4h1.0M677.5 331.8h1.6M678.1 337.0h1.2M677.6 379.5h1.6M677.7 390.0h1.6M678.0 432.1h1.6M678.0 453.6h1.0M677.7 458.4h1.4M683.5 255.4h1.2M683.4 271.2h1.6M683.5 287.2h1.2M683.1 313.2h1.0M683.6 340.0h1.2M683.1 345.5h1.2M682.9 360.8h1.6M683.0 371.5h1.6M682.9 392.3h1.2M683.0 403.2h1.0M683.0 413.8h1.4M683.2 424.3h1.2M683.2 455.6h1.2M682.9 466.6h1.4M688.5 258.4h1.2M688.3 263.6h1.0M688.6 284.2h1.0M688.1 300.2h1.2M688.8 352.8h1.0M688.4 368.8h1.2M688.4 384.9h1.4M688.0 432.1h1.6M688.6 437.4h1.0M688.3 442.5h1.2M688.5 479.4h1.0M688.6 485.0h1.4M693.7 266.1h1.2M693.5 323.9h1.2M693.7 329.5h1.4M693.5 334.4h1.6M693.7 366.6h1.2M693.5 392.8h1.4M693.3 403.4h1.6M693.3 413.7h1.4M693.5 450.8h1.2M693.3 498.1h1.6M698.6 258.1h1.4M699.1 310.9h1.4M699.0 347.5h1.2M698.8 352.9h1.6M698.7 358.6h1.0M698.7 389.7h1.6M699.2 395.1h1.2M698.6 400.5h1.2M698.7 427.0h1.2M699.0 453.1h1.4M698.9 463.9h1.2M704.5 250.6h1.0M704.3 281.8h1.2M704.5 287.0h1.0M704.3 308.5h1.4M704.0 319.1h1.4M704.4 334.4h1.0M704.3 340.2h1.0M704.2 371.3h1.2M704.0 456.0h1.2M704.0 492.8h1.2M709.6 273.8h1.0M709.1 279.2h1.0M709.0 310.8h1.2M709.2 337.0h1.6M709.7 363.3h1.0M709.1 390.2h1.4M708.9 416.3h1.6M709.2 442.9h1.2M709.0 448.2h1.4M709.3 479.6h1.4M708.8 495.2h1.6M714.7 292.2h1.4M714.3 334.5h1.4M714.4 350.5h1.4M714.4 361.3h1.0M714.0 366.6h1.6M714.6 403.3h1.2M714.6 424.1h1.2M714.2 429.2h1.6M714.0 456.0h1.6M714.8 466.2h1.2M714.4 471.7h1.4M714.3 487.7h1.6M719.9 274.4h1.2M719.8 284.6h1.6M720.1 300.6h1.2M719.5 305.4h1.6M719.7 321.4h1.2M719.8 326.8h1.4M719.4 337.2h1.4M719.5 348.0h1.2M719.3 358.1h1.6M719.6 373.9h1.0M719.7 385.0h1.4M719.9 437.7h1.2M724.8 276.5h1.2M725.3 287.3h1.2M725.0 298.1h1.4M724.8 303.2h1.2M724.8 340.2h1.4M725.1 350.3h1.6M724.8 355.5h1.6M724.9 387.1h1.6M724.5 392.3h1.6M724.7 397.6h1.2M724.7 402.9h1.2M724.6 408.4h1.6M724.9 429.5h1.4M725.1 466.5h1.6M724.8 476.6h1.0M724.6 492.8h1.4M730.2 300.6h1.4M730.4 337.5h1.0M730.3 379.1h1.4M730.1 389.8h1.6M730.0 421.5h1.2M730.1 437.4h1.2M730.0 464.0h1.4M730.0 474.0h1.0M735.4 260.5h1.6M735.5 324.2h1.6M735.3 329.2h1.0M735.0 339.9h1.6M735.5 350.8h1.0M735.7 361.0h1.0M735.0 397.8h1.4M735.5 418.7h1.2M735.4 435.1h1.0M735.2 482.1h1.6M740.6 284.8h1.0M740.4 300.2h1.2M740.9 310.6h1.2M740.6 316.5h1.6M740.9 363.4h1.0M740.3 374.3h1.6M740.7 416.3h1.0M740.4 453.0h1.4M740.5 474.5h1.6M740.6 479.8h1.0M745.5 271.6h1.4M746.0 281.7h1.4M745.9 292.7h1.0M746.0 308.3h1.6M746.0 334.6h1.2M745.7 339.8h1.4M745.6 345.1h1.6M746.1 360.8h1.2M745.9 366.6h1.2M745.8 371.5h1.6M746.3 398.0h1.0M745.7 408.2h1.0M746.1 429.7h1.2M745.9 434.8h1.0M745.8 440.2h1.2M745.9 445.6h1.4M746.2 477.1h1.2M751.2 268.6h1.0M750.6 300.6h1.6M751.5 305.9h1.0M751.2 326.8h1.4M751.2 337.0h1.4M751.4 363.7h1.0M751.1 448.2h1.6M751.3 458.4h1.2M751.5 479.7h1.0M756.6 271.5h1.0M756.1 277.0h1.6M756.4 292.2h1.2M756.2 303.0h1.6M756.5 308.2h1.2M756.0 318.7h1.6M756.2 329.4h1.6M755.9 334.4h1.4M756.4 392.4h1.2M756.2 408.5h1.2M756.0 434.9h1.4M755.9 440.3h1.4M761.5 274.0h1.2M761.5 284.5h1.6M761.2 300.7h1.2M761.2 321.7h1.6M761.8 326.4h1.0M761.7 332.0h1.2M761.6 368.8h1.6M761.3 374.1h1.4M761.9 384.4h1.0M761.2 431.9h1.4M761.2 453.2h1.2M761.6 458.7h1.4M766.9 281.9h1.2M766.4 292.3h1.4M766.7 297.8h1.2M766.9 313.5h1.2M766.4 355.7h1.6M766.5 403.0h1.6M766.3 419.3h1.6M766.8 445.0h1.0M766.7 450.7h1.4M766.6 466.5h1.6M766.6 476.8h1.0M766.2 482.5h1.6M772.0 273.8h1.6M772.2 300.7h1.2M771.7 310.7h1.2M771.9 348.1h1.4M771.8 379.8h1.4M771.9 395.0h1.2M772.1 400.6h1.4M771.9 405.7h1.6M771.6 426.8h1.4M771.9 432.2h1.6M771.9 458.5h1.4M772.1 463.6h1.0M777.1 292.6h1.4M777.3 356.0h1.2M777.5 361.1h1.2M777.3 366.6h1.2M777.0 371.9h1.2M777.4 392.8h1.0M777.1 413.4h1.4M777.1 434.7h1.4M776.8 440.1h1.2M777.1 450.6h1.0M782.3 290.2h1.6M782.2 300.6h1.0M782.6 310.6h1.2M782.6 326.6h1.0M782.4 342.7h1.6M782.3 353.3h1.0M782.8 374.0h1.0M782.5 379.2h1.4M782.6 384.4h1.0M782.3 416.4h1.4M782.2 421.7h1.2M782.2 426.9h1.6" stroke="#111" stroke-width="1.25" opacity="0.55" fill="none"/>
<path d="M171.7 213.3h1.4M171.5 223.6h1.4M171.6 239.6h1.6M176.6 190.0h1.6M176.7 205.5h1.0M176.8 226.7h1.4M177.0 237.4h1.2M177.1 242.4h1.2M177.1 247.8h1.2M176.8 258.1h1.2M177.3 268.5h1.0M176.9 289.9h1.4M182.5 171.6h1.0M182.2 234.5h1.6M181.9 239.6h1.4M182.1 265.9h1.6M181.9 281.9h1.0M182.3 303.0h1.2M182.4 308.1h1.0M182.2 313.7h1.4M181.9 319.0h1.2M182.3 323.9h1.2M187.1 221.0h1.2M187.0 289.8h1.4M187.1 310.7h1.4M187.2 316.3h1.6M187.4 327.0h1.6M187.4 337.1h1.0M187.4 342.8h1.6M187.4 353.4h1.6M192.0 187.0h1.6M192.5 192.1h1.0M192.6 197.4h1.6M193.0 203.1h1.0M192.2 266.0h1.4M192.8 271.5h1.2M192.6 282.0h1.2M192.3 298.1h1.4M192.5 302.8h1.2M192.9 308.3h1.0M192.5 334.8h1.2M192.3 371.6h1.6M197.5 210.8h1.4M197.4 215.8h1.6M197.7 221.6h1.0M197.5 232.1h1.2M197.9 258.0h1.2M198.1 268.8h1.0M198.1 274.3h1.2M197.9 294.8h1.4M197.5 332.0h1.4M197.4 337.3h1.6M197.6 353.3h1.6M197.3 368.8h1.4M202.6 208.0h1.6M202.8 229.4h1.6M203.1 276.4h1.2M203.1 287.1h1.0M203.3 313.8h1.2M202.6 324.0h1.4M202.7 334.8h1.4M202.6 366.1h1.4M207.9 194.9h1.6M208.6 205.9h1.0M207.9 221.3h1.6M207.8 242.3h1.4M208.1 263.8h1.0M208.0 279.2h1.4M208.3 300.1h1.0M208.0 305.4h1.6M207.9 337.4h1.4M208.4 368.6h1.4M208.2 374.3h1.6M213.4 192.5h1.2M213.7 208.3h1.0M213.3 229.2h1.6M213.2 250.2h1.4M213.1 276.4h1.4M213.6 287.0h1.4M212.9 292.5h1.6M213.0 308.0h1.4M213.2 334.9h1.4M213.4 355.4h1.0M218.1 205.5h1.6M218.8 247.4h1.0M218.6 300.3h1.6M218.5 310.8h1.4M218.5 332.0h1.6M218.9 358.5h1.4M218.8 379.4h1.0M218.5 384.4h1.6M223.9 187.2h1.0M224.1 250.2h1.2M223.8 266.3h1.0M223.9 297.7h1.4M223.6 302.9h1.2M224.0 308.1h1.2M223.7 313.4h1.4M223.8 329.5h1.4M223.4 335.0h1.4M223.7 340.0h1.4M224.1 345.2h1.4M223.7 350.5h1.0M224.2 355.4h1.0M224.1 397.7h1.2M229.4 178.8h1.0M229.1 189.6h1.0M228.9 211.1h1.2M229.3 226.4h1.0M228.9 305.5h1.6M229.5 321.6h1.0M229.4 342.5h1.0M234.1 192.6h1.4M234.2 197.8h1.6M234.6 203.2h1.2M234.5 229.0h1.4M234.6 234.4h1.2M234.1 250.6h1.6M234.3 277.0h1.0M234.4 287.1h1.4M234.4 297.8h1.6M234.1 303.3h1.4M234.4 313.4h1.6M233.8 324.1h1.6M234.0 340.2h1.4M233.8 350.8h1.6M234.6 387.5h1.0M234.5 398.0h1.4M239.5 200.1h1.6M239.5 263.7h1.6M239.3 274.0h1.4M239.4 368.8h1.2M239.3 373.8h1.4M239.3 384.4h1.2M239.4 390.2h1.6M239.5 400.6h1.2M244.6 197.4h1.6M245.1 223.8h1.2M244.8 282.0h1.0M244.7 292.8h1.2M244.5 360.9h1.0M244.9 381.8h1.4M244.7 392.9h1.4M244.7 403.3h1.4M245.0 408.5h1.2M249.9 195.2h1.6M249.6 226.7h1.4M249.5 237.3h1.6M249.9 337.2h1.0M250.0 358.1h1.6M249.8 374.1h1.0M249.6 379.5h1.4M249.7 384.7h1.2M249.9 389.9h1.6M250.0 395.0h1.0M249.9 405.7h1.2M255.6 192.4h1.0M255.1 202.9h1.2M255.5 224.0h1.0M254.8 234.5h1.4M255.2 250.1h1.2M255.4 276.8h1.2M254.9 281.7h1.2M255.4 297.6h1.4M255.1 334.9h1.6M255.1 339.8h1.6M255.5 350.7h1.0M255.5 397.7h1.0M255.1 403.0h1.0M255.0 414.0h1.0M260.3 194.7h1.0M260.1 200.3h1.6M260.6 211.0h1.0M260.1 269.0h1.6M260.2 305.5h1.0M260.2 321.3h1.0M260.2 326.5h1.0M260.5 342.3h1.4M260.5 369.2h1.6M260.1 395.2h1.2M260.5 405.9h1.2M265.6 197.3h1.0M265.5 207.8h1.2M265.7 218.6h1.6M265.9 229.6h1.2M265.8 234.2h1.2M265.7 266.0h1.2M265.3 277.0h1.2M265.5 313.8h1.4M265.4 319.0h1.4M265.6 335.0h1.4M265.6 350.7h1.4M265.8 361.3h1.0M265.8 366.1h1.2M265.9 381.9h1.2M265.7 392.3h1.6M265.9 408.3h1.0M265.9 424.4h1.2M270.9 215.9h1.6M270.7 227.0h1.4M270.7 232.1h1.4M271.0 237.4h1.4M271.0 289.7h1.0M270.7 310.8h1.2M271.0 316.4h1.4M270.7 326.8h1.0M270.4 342.7h1.6M270.5 358.4h1.4M271.2 363.6h1.2M271.0 379.5h1.2M270.7 384.7h1.0M270.7 395.5h1.0M271.1 400.7h1.0M270.6 410.8h1.6M270.6 416.1h1.4M270.8 421.8h1.4M276.2 250.6h1.0M275.9 292.5h1.6M276.5 302.7h1.0M276.0 345.4h1.4M275.9 355.7h1.0M275.7 366.6h1.6M276.0 392.4h1.6M276.0 402.9h1.4M275.5 408.3h1.6M276.0 413.7h1.6M281.1 200.5h1.6M281.5 205.7h1.2M281.2 242.7h1.4M281.4 310.7h1.4M281.2 316.5h1.6M281.6 326.9h1.2M280.8 337.6h1.6M281.1 342.7h1.2M281.2 353.1h1.2M281.0 369.2h1.4M281.2 389.7h1.0M286.9 255.6h1.0M286.3 266.0h1.4M286.5 297.8h1.0M286.6 329.5h1.6M286.2 361.1h1.2M286.6 371.6h1.6M286.4 398.1h1.2M286.0 403.4h1.6M291.9 216.4h1.0M291.8 231.8h1.0M291.3 237.2h1.6M291.5 242.5h1.4M291.7 268.6h1.0M291.7 305.4h1.0M291.6 316.1h1.6M291.3 326.5h1.6M291.5 347.7h1.6M292.0 389.8h1.2M292.0 400.7h1.2M291.7 405.8h1.4M291.6 416.3h1.2M296.9 213.7h1.4M296.6 218.7h1.4M296.7 245.1h1.6M297.3 250.4h1.0M297.0 271.3h1.4M297.3 276.9h1.0M297.0 282.3h1.4M297.3 297.5h1.0M297.1 319.1h1.2M297.3 323.8h1.2M297.1 355.5h1.6M297.1 371.3h1.4M296.8 392.5h1.2M296.5 403.1h1.6M296.7 413.5h1.6M296.8 424.3h1.0M302.6 226.7h1.0M302.5 258.2h1.0M302.6 279.1h1.0M302.4 305.4h1.4M301.8 310.6h1.4M302.0 353.4h1.0M302.2 384.6h1.0M302.1 390.1h1.4M302.2 395.3h1.0M302.0 406.1h1.4M301.7 416.4h1.6M302.5 432.5h1.0M307.3 213.3h1.4M307.2 224.2h1.6M307.7 250.7h1.2M306.9 292.4h1.4M307.1 313.2h1.2M307.5 376.5h1.2M307.1 402.9h1.4M306.8 424.3h1.6M312.8 226.6h1.4M312.2 247.6h1.4M312.5 268.8h1.6M312.9 279.4h1.0M312.4 284.3h1.4M312.9 306.0h1.0M312.4 331.7h1.0M312.5 342.3h1.4M312.4 353.3h1.6M312.8 363.7h1.0M312.8 385.0h1.2M312.5 416.1h1.6M317.5 208.2h1.6M317.4 218.6h1.6M317.5 255.6h1.4M317.7 261.0h1.6M317.5 282.0h1.2M317.6 303.0h1.6M317.6 308.2h1.2M317.6 323.9h1.6M317.4 334.9h1.4M317.8 345.5h1.0M317.5 350.7h1.2M318.1 355.9h1.0M317.9 413.3h1.4M318.0 419.1h1.0M317.7 429.3h1.4M323.0 211.0h1.6M323.1 215.9h1.0M323.1 231.6h1.4M323.4 242.4h1.0M322.6 326.8h1.6M323.3 348.1h1.0M322.8 379.8h1.4M323.1 395.4h1.6M323.3 416.6h1.2M328.0 218.5h1.4M327.9 250.4h1.6M328.4 255.9h1.2M327.9 281.8h1.6M328.1 287.1h1.2M328.1 298.0h1.4M328.7 303.0h1.0M328.6 345.4h1.0M327.9 360.9h1.4M327.9 371.8h1.4M327.9 376.6h1.6M328.5 424.1h1.0M333.5 211.1h1.4M333.4 221.0h1.2M333.8 242.3h1.2M333.5 252.8h1.0M333.6 258.1h1.4M333.4 368.7h1.6M333.8 374.3h1.2M333.4 379.7h1.2M333.1 384.9h1.4M333.4 395.3h1.0M338.5 218.6h1.4M338.7 223.9h1.0M338.5 250.2h1.6M338.4 260.6h1.2M338.4 276.4h1.6M339.0 323.9h1.0M338.4 329.2h1.4M338.4 339.8h1.6M338.4 371.5h1.6M338.7 376.5h1.4M338.5 387.0h1.0M338.6 403.4h1.0M338.8 408.3h1.0M338.4 424.1h1.6M338.3 429.7h1.6M344.2 226.4h1.0M343.6 274.3h1.2M343.9 295.4h1.0M343.4 311.2h1.6M343.6 342.2h1.6M343.9 374.0h1.0M343.8 385.0h1.2M343.9 411.2h1.4M343.5 432.4h1.6M344.2 437.5h1.0M349.1 223.6h1.0M349.0 276.5h1.2M349.4 319.0h1.2M349.2 360.9h1.2M349.1 382.4h1.0M349.4 429.3h1.2M348.7 434.9h1.6M353.9 226.9h1.4M354.5 231.8h1.4M353.9 248.0h1.6M354.3 269.1h1.4M354.2 284.7h1.4M354.1 290.1h1.0M354.5 300.1h1.0M354.5 311.2h1.0M354.5 337.2h1.4M354.1 363.6h1.0M354.5 369.1h1.4M354.6 400.9h1.2M354.5 411.1h1.2M354.6 421.3h1.4M354.3 432.1h1.4M359.2 223.7h1.4M359.6 229.0h1.0M359.8 234.9h1.4M359.4 250.5h1.2M359.8 255.5h1.2M359.9 261.1h1.2M359.3 287.3h1.6M359.9 313.3h1.2M359.3 318.9h1.6M359.8 324.4h1.0M359.7 350.7h1.4M359.8 376.9h1.4M359.1 387.3h1.6M360.0 424.5h1.0M359.7 429.2h1.4M359.5 434.4h1.2M365.0 231.7h1.2M364.6 258.0h1.2M364.7 268.8h1.0M364.6 348.0h1.6M364.7 374.3h1.4M364.5 379.8h1.2M364.4 400.5h1.6M364.3 411.3h1.6M364.5 416.2h1.4M364.9 421.9h1.2M369.8 266.2h1.2M369.8 282.2h1.2M369.8 308.6h1.2M370.0 334.7h1.6M370.1 344.9h1.0M370.1 355.7h1.4M369.7 387.2h1.4M370.2 434.6h1.0M375.5 231.5h1.2M375.4 237.4h1.2M375.3 252.9h1.4M374.9 263.3h1.6M375.0 268.9h1.4M375.4 274.2h1.4M375.0 305.6h1.6M375.0 310.7h1.4M374.9 358.3h1.4M375.2 374.1h1.0M375.2 421.3h1.2M380.3 276.4h1.4M380.6 297.6h1.4M380.7 303.2h1.2M380.0 329.2h1.6M380.5 339.8h1.2M380.2 366.2h1.0M380.6 376.5h1.2M380.7 387.2h1.4M380.3 392.4h1.4M380.4 419.3h1.4M380.5 424.0h1.0M385.8 258.2h1.6M385.9 269.0h1.0M385.3 273.9h1.6M385.5 284.4h1.6M385.6 311.1h1.4M385.8 316.1h1.6M385.6 332.0h1.6M385.7 347.6h1.0M385.2 363.9h1.4M385.3 384.7h1.6M385.5 400.5h1.2M390.7 255.7h1.2M391.0 260.9h1.6M391.1 276.8h1.0M390.7 281.6h1.4M391.1 292.8h1.0M390.8 297.8h1.6M390.5 308.1h1.4M390.9 334.8h1.0M495.2 265.9h1.4M495.6 271.2h1.2M500.7 273.7h1.0M500.8 332.2h1.0M500.5 342.8h1.6M505.6 292.4h1.6M505.6 303.2h1.6M505.4 313.6h1.4M505.6 339.7h1.2M505.8 345.0h1.6M505.6 376.7h1.0M510.7 258.1h1.4M510.5 273.8h1.4M511.2 279.2h1.0M510.8 326.7h1.0M510.6 353.1h1.4M511.3 358.5h1.0M511.0 369.2h1.6M516.4 276.6h1.0M516.4 329.2h1.2M516.0 334.4h1.4M516.2 345.3h1.4M516.0 392.3h1.4M516.4 418.8h1.2M521.6 274.1h1.2M521.2 279.1h1.2M521.6 284.5h1.2M521.8 289.7h1.0M521.3 310.7h1.4M521.4 332.0h1.0M521.7 368.9h1.0M521.3 384.9h1.6M521.4 389.9h1.2M521.0 400.5h1.4M521.3 416.1h1.2M521.5 421.6h1.6M521.4 426.8h1.2M526.5 240.0h1.4M526.9 292.2h1.0M526.2 308.5h1.4M526.7 313.5h1.4M526.1 361.3h1.6M526.7 381.9h1.6M526.8 392.9h1.6M526.9 403.3h1.2M526.4 418.6h1.2M531.6 242.6h1.4M532.0 321.2h1.2M531.8 332.0h1.0M531.5 353.4h1.6M532.2 379.4h1.0M532.0 390.3h1.0M531.8 411.3h1.0M531.5 421.5h1.4M531.9 448.0h1.6M537.4 308.2h1.2M537.2 313.5h1.2M537.3 371.4h1.4M537.5 382.4h1.0M537.1 402.8h1.4M537.2 408.3h1.6M536.7 413.5h1.6M536.6 440.0h1.6M537.3 455.9h1.2M541.9 252.9h1.2M541.9 290.0h1.6M541.9 300.4h1.4M542.5 310.7h1.2M542.3 316.3h1.2M542.4 321.3h1.2M542.1 326.5h1.4M542.5 342.4h1.4M542.1 411.3h1.6M542.4 448.0h1.0M547.3 245.1h1.4M547.3 261.2h1.6M547.8 318.7h1.0M547.6 334.5h1.6M547.6 345.0h1.0M547.3 371.8h1.2M547.2 382.3h1.6M547.3 398.1h1.4M547.5 413.9h1.6M547.7 418.7h1.2M547.5 429.3h1.0M547.6 455.8h1.2M547.8 461.2h1.2M552.6 242.3h1.2M552.5 253.3h1.6M552.6 257.9h1.2M552.3 263.5h1.6M553.0 268.7h1.4M552.3 326.8h1.4M552.7 337.5h1.4M552.7 342.9h1.0M552.8 390.0h1.0M553.0 432.0h1.0M552.9 463.6h1.2M558.1 302.9h1.0M557.5 345.2h1.6M557.5 361.2h1.6M557.4 439.7h1.6M558.0 445.0h1.2M557.9 450.6h1.0M558.1 455.9h1.2M563.4 258.1h1.2M563.2 268.9h1.0M563.0 273.8h1.6M563.5 284.7h1.2M563.0 290.0h1.6M562.9 300.2h1.4M563.2 305.9h1.2M563.0 358.5h1.2M563.5 369.0h1.0M563.2 389.7h1.6M563.2 405.8h1.4M563.2 432.1h1.4M568.5 261.0h1.0M568.2 302.9h1.4M567.9 308.2h1.6M568.7 329.6h1.2M568.7 334.7h1.2M568.4 345.0h1.4M568.2 392.6h1.0M568.2 397.7h1.0M568.4 419.2h1.0M568.7 434.7h1.0M568.5 445.5h1.2M568.7 455.8h1.2M568.1 461.4h1.6M568.7 466.5h1.2M568.3 471.8h1.6M568.6 476.9h1.2M573.8 395.3h1.4M573.4 437.2h1.0M573.3 458.2h1.2M573.7 463.5h1.4M573.3 479.4h1.4M579.1 245.0h1.0M579.0 271.7h1.0M579.0 292.2h1.4M578.7 324.3h1.6M578.7 350.8h1.2M578.6 382.0h1.0M579.1 387.0h1.2M578.5 450.3h1.4M578.7 466.6h1.0M579.0 472.0h1.4M584.5 289.9h1.0M583.9 300.7h1.2M583.6 342.5h1.4M583.9 347.9h1.4M584.1 389.8h1.2M583.6 394.9h1.4M583.8 405.9h1.2M584.1 421.8h1.6M584.2 427.0h1.2M583.8 432.3h1.4M583.9 453.4h1.0M583.8 458.7h1.0M583.6 474.3h1.6M583.9 485.0h1.4M589.1 255.8h1.6M589.4 266.5h1.0M589.0 276.7h1.6M589.0 282.2h1.4M589.2 287.0h1.0M589.2 303.3h1.4M588.9 323.9h1.6M589.1 339.8h1.0M589.4 361.3h1.6M589.0 371.8h1.6M589.0 392.7h1.2M588.9 403.0h1.6M589.2 414.0h1.4M588.8 466.4h1.6M594.1 263.6h1.6M594.0 279.5h1.6M594.5 353.3h1.6M594.4 390.2h1.0M594.2 395.2h1.4M594.2 406.0h1.6M594.2 421.5h1.4M594.0 448.1h1.6M594.5 479.5h1.6M599.9 245.4h1.4M599.7 313.9h1.4M599.6 324.3h1.2M599.6 329.1h1.4M599.4 340.2h1.4M599.6 345.5h1.4M599.7 392.5h1.2M599.9 397.9h1.4M599.8 403.3h1.6M599.5 419.2h1.6M604.4 268.9h1.6M605.2 284.4h1.0M604.7 289.9h1.6M604.7 390.2h1.0M605.0 395.4h1.2M604.6 447.7h1.2M605.4 458.7h1.0M605.0 463.9h1.2M604.8 469.0h1.2M610.6 245.0h1.0M610.3 250.6h1.4M609.9 260.9h1.4M610.3 266.1h1.0M609.7 287.1h1.6M609.9 313.2h1.4M610.1 334.9h1.6M610.0 387.1h1.2M610.1 429.2h1.4M610.0 439.9h1.0M609.9 455.6h1.0M609.9 461.3h1.4M615.3 263.5h1.4M614.9 306.0h1.4M615.1 331.9h1.4M615.3 337.6h1.6M615.6 358.4h1.0M615.4 363.7h1.0M615.4 390.0h1.2M615.1 437.1h1.2M615.1 442.6h1.2M615.4 463.4h1.6M615.7 469.0h1.2M615.5 484.6h1.2M620.7 244.7h1.0M620.8 250.4h1.0M620.1 260.9h1.6M620.5 292.2h1.0M620.7 340.1h1.4M620.7 350.7h1.2M620.6 360.8h1.2M620.6 371.8h1.2M620.5 403.2h1.0M620.3 418.9h1.0M620.5 445.3h1.2M620.8 487.5h1.4M625.7 268.4h1.6M626.2 274.0h1.0M625.4 279.1h1.6M625.7 284.9h1.2M625.3 289.9h1.6M625.6 316.1h1.0M625.5 332.3h1.6M625.9 395.2h1.6M626.0 416.2h1.2M626.1 432.3h1.0M625.9 463.8h1.0M625.6 479.9h1.6M625.6 485.0h1.6M630.9 266.3h1.4M631.0 271.5h1.2M630.6 292.6h1.6M630.6 376.6h1.6M630.8 387.4h1.6M630.6 408.1h1.6M630.7 413.6h1.4M630.7 461.1h1.6M631.2 466.1h1.4M636.5 247.4h1.4M636.0 257.9h1.6M636.5 279.0h1.4M635.9 284.5h1.6M636.4 337.0h1.4M636.4 347.9h1.2M636.1 353.1h1.0M636.6 363.6h1.0M636.0 400.2h1.6M636.5 432.3h1.0M636.0 448.1h1.6M636.1 453.5h1.4M635.9 474.5h1.4M641.6 250.3h1.2M641.5 329.5h1.4M641.1 339.7h1.6M641.1 361.0h1.6M641.7 366.0h1.0M641.2 371.6h1.2M641.4 376.6h1.0M641.4 403.2h1.2M641.4 413.8h1.6M641.7 418.9h1.2M641.8 429.8h1.0M641.5 435.0h1.4M641.6 440.2h1.4M640.9 471.7h1.6M641.8 482.5h1.0M641.7 487.6h1.2M641.3 492.5h1.2M646.6 295.3h1.6M646.7 300.3h1.6M646.7 321.2h1.0M646.8 331.9h1.2M647.0 337.5h1.0M647.0 373.9h1.2M646.5 379.7h1.2M646.8 448.1h1.4M646.6 495.1h1.6M651.7 266.1h1.6M652.2 287.2h1.0M651.6 292.2h1.2M651.9 324.1h1.2M651.5 350.3h1.6M651.7 360.9h1.6M652.2 392.3h1.2M652.0 414.0h1.4M651.7 424.6h1.0M651.5 439.8h1.4M651.8 450.5h1.6M651.5 461.2h1.4M652.1 487.6h1.0M652.1 492.7h1.0M657.4 316.5h1.2M656.8 321.3h1.6M657.1 326.8h1.0M657.4 342.8h1.2M657.3 353.4h1.0M657.2 358.3h1.2M657.2 363.3h1.2M656.8 395.3h1.4M656.9 405.8h1.6M657.1 416.2h1.0M657.4 421.6h1.0M656.9 447.6h1.2M656.9 458.8h1.2M657.4 464.0h1.2M656.7 495.2h1.4M662.3 255.8h1.2M662.3 260.6h1.4M662.3 276.5h1.6M662.5 282.3h1.2M662.4 292.3h1.2M662.7 329.6h1.2M661.9 334.5h1.4M662.4 366.3h1.0M662.4 403.3h1.0M662.5 418.7h1.6M662.6 461.3h1.0M667.2 258.0h1.6M667.1 263.4h1.6M667.8 268.5h1.4M667.4 284.7h1.2M667.4 305.7h1.2M667.3 331.7h1.6M667.6 353.2h1.2M667.3 363.8h1.4M667.8 379.4h1.4M667.8 416.3h1.0M667.3 421.4h1.6M667.8 427.1h1.2M667.1 437.7h1.4M667.1 458.5h1.6M667.7 468.8h1.6M667.6 474.4h1.4M667.7 479.4h1.0M667.4 495.2h1.0M672.3 250.5h1.6M672.6 260.8h1.6M672.7 271.7h1.6M673.0 282.0h1.2M672.5 318.9h1.2M672.8 345.5h1.2M672.7 366.4h1.2M672.6 387.4h1.0M672.6 414.0h1.0M672.9 418.8h1.6M672.7 445.1h1.4M672.8 456.2h1.2M672.6 477.1h1.6M672.8 482.1h1.4M677.5 253.1h1.6M677.5 268.8h1.6M678.1 327.0h1.6M678.1 352.9h1.2M678.2 363.9h1.0M678.2 368.8h1.4M677.6 405.7h1.6M677.8 411.1h1.2M677.7 442.8h1.2M677.6 469.1h1.4M678.3 484.9h1.0M678.3 495.4h1.0M683.4 261.2h1.4M683.4 276.9h1.0M683.4 281.7h1.2M683.5 308.2h1.2M682.9 324.4h1.6M683.3 365.9h1.2M683.1 381.9h1.6M683.0 387.1h1.6M683.6 440.3h1.0M682.8 460.9h1.4M683.1 471.9h1.0M683.1 487.8h1.2M683.2 498.2h1.6M688.5 289.8h1.6M688.4 321.8h1.6M688.4 326.5h1.2M688.4 342.4h1.0M688.6 374.2h1.4M688.4 379.7h1.0M688.3 395.3h1.2M688.5 400.8h1.4M688.3 416.5h1.0M688.2 421.8h1.4M688.4 427.2h1.0M688.6 448.3h1.2M693.8 255.3h1.0M693.4 271.5h1.6M693.4 276.7h1.6M693.4 287.1h1.2M693.6 303.0h1.4M693.3 308.0h1.4M693.3 313.6h1.4M693.9 318.7h1.2M693.8 345.5h1.4M693.2 371.7h1.6M693.8 408.7h1.4M693.5 429.8h1.4M693.3 434.7h1.6M693.4 445.6h1.4M693.6 455.8h1.2M693.8 471.5h1.4M698.5 252.9h1.6M698.9 263.3h1.2M699.0 300.2h1.2M699.1 321.2h1.0M699.0 331.9h1.2M698.7 363.9h1.4M698.7 379.7h1.4M698.5 437.6h1.4M698.6 495.6h1.4M703.9 255.3h1.4M703.9 292.5h1.6M704.1 356.1h1.2M704.1 376.8h1.2M704.3 381.8h1.4M704.2 387.7h1.6M703.7 403.3h1.4M703.9 424.3h1.0M704.3 429.7h1.0M704.2 434.7h1.4M704.2 461.3h1.2M704.1 466.4h1.6M704.0 476.8h1.6M704.1 482.1h1.0M709.1 258.2h1.6M709.1 290.1h1.4M709.2 300.5h1.0M709.6 305.9h1.4M709.4 321.2h1.0M709.7 342.6h1.0M709.6 353.1h1.0M709.5 358.1h1.2M709.4 374.4h1.2M709.0 379.3h1.4M709.0 395.3h1.2M709.3 411.0h1.6M709.1 421.4h1.6M709.1 427.0h1.4M709.4 432.1h1.4M709.3 453.4h1.6M709.5 474.3h1.0M714.5 255.8h1.2M714.2 287.3h1.4M714.4 298.0h1.2M714.2 308.3h1.6M714.5 329.6h1.2M714.6 355.7h1.4M714.3 387.3h1.0M714.9 392.4h1.0M714.0 397.9h1.6M714.4 445.6h1.4M714.9 482.0h1.0M719.6 253.0h1.6M719.5 311.3h1.4M719.6 369.2h1.6M719.7 395.2h1.6M719.3 416.6h1.6M719.8 421.9h1.2M720.1 443.0h1.0M725.0 260.7h1.2M724.8 313.5h1.0M725.2 376.6h1.4M724.9 435.0h1.0M724.8 445.0h1.6M724.8 450.3h1.4M730.0 273.9h1.6M730.4 279.3h1.2M730.4 289.9h1.2M730.2 305.8h1.4M730.6 310.6h1.0M730.0 321.2h1.2M730.4 331.9h1.0M729.8 405.5h1.4M730.3 411.2h1.4M730.1 416.3h1.2M730.4 443.0h1.4M730.2 484.5h1.0M735.4 271.6h1.4M735.1 292.3h1.6M735.6 298.1h1.2M735.5 303.1h1.6M735.2 313.8h1.2M735.3 355.5h1.2M735.3 366.0h1.2M735.5 382.0h1.0M735.4 413.8h1.6M735.7 429.7h1.2M735.0 445.7h1.4M735.7 450.7h1.2M735.2 455.6h1.4M735.4 461.5h1.0M735.4 466.2h1.2M735.4 476.6h1.6M735.6 492.6h1.0M740.1 268.4h1.6M740.9 274.1h1.4M740.2 326.9h1.6M740.8 348.0h1.4M741.0 353.0h1.0M740.4 368.8h1.4M740.6 390.3h1.6M740.4 395.4h1.2M740.7 437.7h1.0M740.1 447.8h1.6M740.5 469.3h1.4M740.9 490.4h1.2M745.9 260.5h1.2M746.1 287.1h1.4M746.1 319.0h1.0M746.0 329.0h1.2M745.5 387.6h1.6M745.6 392.6h1.6M745.7 402.8h1.4M746.2 419.0h1.2M745.8 424.0h1.6M745.5 450.4h1.4M745.8 456.2h1.2M745.5 461.3h1.4M745.4 466.2h1.6M745.5 471.4h1.4M751.2 295.4h1.0M751.0 316.4h1.2M751.2 342.8h1.6M750.9 347.5h1.0M750.9 352.7h1.0M751.3 390.2h1.4M751.0 411.2h1.2M751.3 421.4h1.0M750.8 426.9h1.2M750.8 437.4h1.4M750.8 453.5h1.2M751.0 464.0h1.6M750.8 484.9h1.6M750.8 489.9h1.4M755.8 260.7h1.6M756.0 281.9h1.4M756.0 313.7h1.6M756.3 361.3h1.6M756.0 366.4h1.6M756.2 387.1h1.4M756.0 424.4h1.6M756.0 429.2h1.4M756.4 445.4h1.6M761.2 289.8h1.6M761.7 295.3h1.2M761.6 316.2h1.2M761.3 337.2h1.6M761.6 348.0h1.2M761.6 363.7h1.6M761.2 400.2h1.2M761.2 411.0h1.2M761.9 447.7h1.0M766.5 323.9h1.6M766.7 329.5h1.0M766.5 334.3h1.4M766.8 345.0h1.6M766.8 360.8h1.4M766.4 376.9h1.2M767.1 382.4h1.2M767.1 392.6h1.0M766.6 440.3h1.0M766.3 455.8h1.6M766.6 460.8h1.6M766.5 471.5h1.4M771.8 327.0h1.4M772.3 342.9h1.2M772.1 363.3h1.4M772.2 389.7h1.0M772.0 411.4h1.0M771.8 416.3h1.6M771.8 448.0h1.4M776.9 276.8h1.4M777.2 281.9h1.2M777.4 303.2h1.2M777.5 308.4h1.0M777.2 329.6h1.2M776.9 334.4h1.2M777.1 350.8h1.2M776.6 398.0h1.6M777.4 408.2h1.2M777.2 419.1h1.2M777.2 455.7h1.2M776.7 461.3h1.6M782.4 316.1h1.4M782.8 321.3h1.0M782.2 369.0h1.0M782.3 410.8h1.0M782.5 432.3h1.0" stroke="#111" stroke-width="1.25" opacity="0.75" fill="none"/>
<path d="M177.0 200.6h1.6M176.6 215.9h1.4M181.8 176.9h1.4M181.7 208.0h1.4M182.0 297.9h1.6M187.2 174.2h1.2M187.5 179.1h1.0M187.1 190.1h1.6M187.5 231.7h1.0M187.7 284.5h1.2M192.4 208.1h1.0M192.2 213.3h1.6M192.7 277.0h1.2M192.1 292.5h1.6M192.2 319.1h1.4M192.4 355.5h1.2M192.7 366.3h1.6M197.7 195.1h1.0M197.7 263.4h1.4M197.4 315.9h1.4M202.8 181.9h1.0M202.7 197.3h1.6M202.8 234.4h1.2M208.0 189.9h1.4M208.1 310.6h1.2M208.3 395.3h1.4M213.4 182.0h1.0M213.1 324.4h1.2M213.1 350.2h1.4M213.3 376.5h1.0M218.9 184.2h1.0M218.5 210.9h1.6M218.9 337.4h1.0M218.8 353.0h1.2M223.6 213.6h1.2M223.7 218.6h1.2M223.9 239.6h1.4M223.7 287.0h1.2M223.6 292.7h1.2M229.2 184.7h1.6M228.8 195.0h1.4M228.8 221.2h1.4M228.9 237.1h1.2M229.4 247.6h1.2M229.2 274.4h1.4M229.4 294.8h1.2M228.9 327.0h1.6M228.8 363.3h1.4M234.4 392.9h1.6M239.4 189.6h1.0M239.4 194.9h1.6M239.1 216.4h1.4M239.2 231.9h1.6M239.4 268.8h1.0M239.6 289.5h1.4M239.2 295.3h1.4M239.5 300.7h1.6M239.1 306.0h1.4M239.4 326.9h1.2M239.6 358.0h1.2M239.6 410.9h1.2M244.7 202.7h1.6M244.3 286.9h1.4M244.5 329.5h1.2M244.3 398.2h1.6M249.9 215.8h1.2M250.1 258.3h1.0M250.3 347.5h1.0M250.3 369.2h1.2M255.0 229.3h1.4M255.4 287.3h1.0M255.2 377.1h1.2M254.8 387.1h1.6M260.4 205.5h1.0M260.3 310.7h1.6M260.0 337.2h1.4M265.6 223.9h1.6M265.3 302.8h1.6M265.4 329.1h1.0M265.2 345.2h1.6M265.7 355.4h1.0M266.0 376.8h1.0M265.8 398.0h1.0M270.7 321.3h1.2M270.9 353.4h1.2M270.8 426.8h1.2M275.8 229.4h1.2M276.1 239.4h1.6M275.7 245.4h1.4M275.7 260.8h1.6M275.8 271.7h1.4M276.5 297.9h1.0M276.3 313.2h1.2M275.6 381.9h1.6M281.1 263.6h1.2M281.1 279.3h1.4M281.4 363.4h1.4M281.1 384.5h1.4M281.1 411.0h1.0M286.2 223.9h1.4M286.8 287.3h1.0M286.5 303.1h1.6M286.5 334.6h1.2M286.5 355.7h1.2M286.8 387.4h1.0M286.4 408.4h1.2M291.6 200.1h1.4M292.1 205.4h1.0M291.8 221.6h1.0M291.8 253.0h1.4M297.2 202.6h1.0M297.2 224.1h1.0M296.6 287.0h1.4M302.2 200.0h1.6M302.0 205.4h1.2M302.1 247.5h1.4M302.2 295.3h1.6M302.3 337.3h1.2M301.9 348.0h1.2M302.5 363.6h1.0M301.8 426.8h1.4M307.7 308.3h1.0M307.1 350.6h1.0M307.3 392.4h1.6M307.6 418.8h1.2M312.5 311.1h1.6M312.8 347.9h1.2M312.6 374.2h1.6M312.4 379.3h1.2M312.8 426.5h1.4M317.7 224.2h1.4M317.9 266.0h1.0M318.1 387.5h1.0M317.7 424.5h1.6M322.8 258.4h1.4M322.7 295.3h1.4M322.8 353.4h1.2M322.8 400.3h1.4M323.0 411.0h1.4M323.0 437.2h1.0M327.9 313.3h1.4M327.9 382.4h1.2M328.6 403.1h1.2M333.9 321.2h1.0M333.7 331.7h1.4M333.3 342.5h1.0M333.2 352.8h1.2M333.4 363.6h1.4M333.3 390.0h1.6M338.4 298.1h1.2M338.4 319.0h1.6M338.5 366.0h1.2M343.6 231.5h1.6M343.4 316.1h1.6M349.5 234.7h1.2M348.9 239.5h1.6M349.2 245.2h1.0M348.6 271.1h1.6M349.3 397.6h1.6M349.0 402.8h1.6M349.0 418.9h1.0M354.3 274.3h1.6M354.1 347.9h1.4M359.8 276.3h1.2M359.5 302.8h1.4M359.4 308.6h1.0M359.5 345.3h1.6M359.7 382.1h1.2M365.1 237.1h1.2M365.0 253.0h1.4M364.7 290.2h1.2M365.0 305.7h1.4M364.5 327.0h1.4M365.0 337.0h1.4M364.5 358.3h1.4M369.6 240.0h1.4M369.7 287.5h1.6M370.4 382.3h1.0M370.2 392.8h1.0M370.3 403.2h1.0M369.8 418.7h1.0M375.1 279.1h1.0M375.2 290.1h1.0M374.8 379.2h1.6M375.3 389.8h1.2M380.5 239.9h1.4M380.2 324.2h1.0M380.2 334.6h1.4M380.6 371.7h1.2M380.9 403.5h1.0M385.5 263.4h1.2M385.5 342.7h1.2M385.9 353.2h1.2M385.6 390.3h1.2M385.4 395.5h1.0M495.2 292.3h1.0M500.5 363.7h1.4M505.7 329.6h1.4M505.5 360.8h1.4M505.6 371.8h1.0M511.3 289.7h1.2M510.7 295.0h1.6M510.9 321.2h1.4M510.9 332.4h1.2M511.2 337.2h1.0M510.8 347.8h1.2M510.8 373.9h1.6M516.1 245.3h1.6M516.1 271.7h1.0M516.5 292.3h1.0M516.5 297.4h1.0M516.2 303.1h1.2M516.3 371.3h1.0M516.2 397.5h1.2M516.3 403.0h1.0M516.0 413.5h1.4M521.3 268.6h1.2M521.3 358.4h1.2M521.4 405.6h1.2M526.6 397.8h1.6M526.3 414.0h1.2M531.9 258.4h1.6M531.4 263.8h1.6M531.7 290.1h1.4M531.6 337.0h1.2M531.5 432.5h1.2M537.4 260.5h1.0M536.6 323.9h1.6M537.4 329.0h1.0M536.8 366.6h1.0M536.8 450.3h1.6M542.4 263.5h1.6M542.2 279.3h1.6M542.1 305.6h1.6M541.7 379.4h1.6M542.3 437.4h1.4M547.5 250.4h1.6M547.3 266.0h1.4M547.5 408.2h1.4M547.5 445.6h1.6M552.5 247.5h1.6M552.8 279.2h1.0M552.9 295.3h1.6M552.8 306.0h1.6M552.6 374.0h1.2M552.8 421.8h1.0M552.5 443.0h1.0M552.8 453.2h1.4M557.4 245.4h1.6M557.6 255.4h1.4M557.8 387.5h1.4M557.7 397.9h1.6M557.7 419.1h1.4M558.3 477.2h1.2M562.9 279.6h1.6M563.2 295.2h1.6M563.0 374.0h1.0M563.1 384.5h1.4M563.2 416.2h1.2M568.4 240.0h1.2M568.5 245.3h1.4M568.7 271.5h1.2M568.4 287.6h1.4M568.2 318.8h1.6M568.6 324.3h1.0M568.7 339.9h1.2M568.2 350.7h1.2M568.4 361.2h1.6M573.6 300.4h1.0M573.8 305.6h1.0M573.9 331.9h1.2M573.8 363.4h1.2M573.5 374.0h1.0M573.8 379.6h1.2M573.7 384.7h1.2M573.8 453.5h1.2M579.2 287.5h1.0M578.6 308.1h1.2M578.5 355.7h1.4M578.7 376.7h1.4M578.9 418.8h1.0M578.5 434.8h1.2M584.0 247.7h1.6M584.3 284.7h1.4M584.3 295.2h1.0M583.6 326.7h1.6M584.2 332.3h1.4M584.1 358.4h1.6M584.1 363.4h1.2M584.0 369.0h1.6M583.9 374.1h1.0M584.1 400.8h1.0M584.0 437.3h1.6M584.5 448.2h1.0M583.6 463.5h1.6M589.2 329.6h1.6M589.4 408.4h1.4M589.4 435.0h1.6M589.2 439.8h1.0M594.6 242.6h1.4M594.0 295.3h1.6M594.8 300.6h1.0M594.3 316.1h1.6M594.3 342.6h1.4M594.8 373.9h1.0M594.2 400.7h1.4M599.4 287.6h1.4M599.4 376.6h1.4M599.3 424.1h1.4M599.9 471.4h1.0M605.0 263.4h1.0M605.0 311.1h1.6M605.0 416.3h1.0M605.0 442.8h1.0M610.0 360.9h1.0M609.9 377.0h1.4M610.1 403.0h1.4M610.1 466.6h1.6M615.3 310.9h1.4M615.1 368.7h1.2M615.6 395.3h1.0M615.1 410.9h1.0M615.5 427.0h1.2M620.6 266.2h1.2M620.6 287.1h1.0M620.6 297.8h1.6M620.9 397.9h1.0M625.9 295.2h1.6M625.5 363.4h1.2M626.1 369.1h1.2M625.7 410.7h1.4M625.8 421.8h1.2M625.7 442.7h1.4M631.0 255.8h1.4M630.6 334.7h1.4M630.8 350.7h1.2M631.2 371.7h1.4M631.2 418.9h1.4M630.8 455.8h1.2M630.6 471.6h1.6M630.8 492.7h1.0M636.2 290.1h1.0M636.3 295.3h1.0M636.0 321.1h1.6M636.0 326.7h1.0M636.3 342.7h1.6M636.5 374.0h1.0M635.8 405.6h1.6M636.2 469.3h1.2M636.3 490.2h1.2M641.6 287.5h1.0M641.6 323.8h1.0M641.4 350.2h1.0M641.6 408.2h1.4M641.3 445.2h1.4M646.7 274.1h1.4M646.5 316.5h1.4M647.0 358.3h1.2M646.7 363.4h1.0M646.7 453.1h1.0M646.9 463.6h1.4M651.8 366.4h1.0M651.9 418.7h1.0M657.3 268.5h1.4M657.4 305.6h1.2M657.3 489.9h1.2M662.4 250.3h1.4M662.6 297.5h1.2M662.2 318.7h1.0M662.4 339.9h1.0M662.1 361.1h1.4M662.7 387.1h1.0M662.0 408.6h1.6M662.1 413.9h1.0M661.9 476.8h1.6M667.5 290.0h1.6M667.7 295.2h1.2M667.4 347.7h1.2M667.3 395.5h1.4M667.3 400.5h1.2M667.4 411.2h1.0M667.4 442.8h1.4M673.1 276.4h1.0M673.0 350.2h1.0M672.9 361.2h1.4M672.7 403.1h1.4M672.5 434.4h1.2M672.5 450.5h1.6M673.1 461.1h1.0M672.3 487.4h1.6M677.7 247.9h1.4M677.7 263.7h1.2M677.9 358.1h1.0M678.0 384.7h1.6M677.8 427.0h1.2M678.0 463.8h1.6M683.4 318.8h1.0M683.3 434.6h1.2M683.2 482.1h1.0M688.5 273.8h1.6M688.0 279.3h1.4M688.5 332.1h1.6M688.4 389.9h1.4M688.2 411.3h1.6M693.3 261.1h1.2M693.1 292.6h1.6M693.3 340.1h1.6M693.4 387.4h1.2M694.1 466.5h1.0M698.6 268.7h1.2M698.7 279.3h1.2M699.0 294.9h1.6M698.5 421.4h1.6M699.0 474.1h1.6M699.1 484.7h1.4M703.8 276.4h1.6M703.9 408.4h1.4M704.0 439.7h1.4M704.0 487.8h1.6M709.2 252.7h1.2M709.5 268.6h1.0M709.1 284.4h1.4M708.8 295.3h1.6M709.1 331.8h1.2M709.1 347.7h1.4M709.4 458.2h1.2M714.7 345.4h1.0M714.4 461.2h1.0M720.2 363.9h1.0M719.7 469.0h1.2M719.5 495.6h1.6M724.7 266.3h1.2M724.6 271.5h1.4M724.6 281.9h1.6M724.6 323.8h1.6M724.7 371.6h1.0M724.7 440.2h1.2M724.5 482.0h1.6M730.3 316.1h1.6M729.7 348.0h1.6M729.8 352.8h1.6M729.9 368.7h1.6M730.4 395.3h1.4M730.1 427.1h1.0M729.9 479.7h1.2M730.4 495.1h1.2M735.1 319.0h1.4M735.1 344.9h1.6M740.8 279.4h1.0M740.5 379.2h1.4M740.8 426.7h1.0M740.6 431.9h1.0M740.4 463.6h1.4M740.9 484.7h1.0M745.6 298.0h1.6M745.8 303.2h1.0M746.0 313.7h1.4M746.2 324.0h1.0M751.1 258.5h1.4M750.9 279.0h1.2M750.9 311.2h1.0M750.8 384.6h1.2M750.8 442.6h1.4M756.6 266.4h1.2M756.5 350.7h1.0M756.0 461.2h1.4M761.7 279.0h1.0M761.8 342.8h1.0M761.3 358.6h1.2M761.8 390.2h1.2M761.3 416.6h1.6M761.6 442.6h1.6M761.5 484.8h1.6M766.4 266.4h1.4M767.2 271.5h1.0M766.7 350.3h1.2M766.9 371.3h1.2M766.6 408.1h1.4M772.2 279.0h1.2M771.6 289.9h1.4M771.7 305.3h1.6M772.2 374.5h1.2M776.8 429.5h1.4M777.0 445.2h1.2M782.0 332.3h1.6M782.3 395.1h1.6M782.1 437.7h1.4" stroke="#111" stroke-width="1.25" opacity="0.90" fill="none"/>
<path d="M171.6 197.5h1.2M171.5 202.9h1.4M171.8 218.7h1.2M172.0 229.5h1.0M176.8 173.9h1.0M177.0 184.6h1.0M176.6 195.0h1.4M177.1 232.1h1.0M182.1 197.8h1.4M182.0 202.6h1.2M182.2 213.4h1.0M182.4 218.4h1.0M182.4 229.3h1.0M182.3 250.4h1.2M182.2 255.5h1.4M182.5 271.2h1.0M181.8 292.2h1.6M187.4 184.5h1.4M187.1 200.2h1.4M187.3 205.7h1.4M187.1 242.5h1.0M187.0 247.5h1.4M187.4 274.2h1.0M187.5 358.4h1.2M192.5 176.7h1.0M192.8 182.0h1.0M192.4 234.2h1.0M192.4 245.2h1.6M192.5 250.3h1.0M192.3 260.6h1.4M192.2 361.2h1.2M197.5 173.6h1.4M197.3 200.2h1.6M197.5 242.6h1.4M197.7 247.4h1.6M197.7 279.4h1.0M197.3 289.9h1.4M198.1 305.4h1.0M198.2 311.0h1.0M197.9 326.9h1.0M197.5 342.6h1.0M197.9 374.2h1.2M203.0 187.4h1.2M203.2 192.7h1.2M202.8 203.1h1.2M203.0 213.4h1.2M202.9 271.4h1.4M203.0 281.9h1.2M202.5 318.8h1.6M203.0 329.2h1.2M203.4 350.2h1.0M202.7 355.6h1.4M202.8 371.7h1.2M208.5 179.0h1.2M208.1 232.1h1.2M207.9 252.8h1.4M208.2 268.9h1.0M208.1 284.7h1.2M208.1 295.4h1.4M208.0 326.7h1.2M208.0 342.4h1.2M208.5 379.7h1.0M207.8 389.7h1.4M213.4 187.4h1.2M213.3 213.3h1.6M213.5 224.1h1.6M213.5 245.4h1.2M213.7 313.3h1.2M212.9 319.0h1.6M213.7 329.5h1.2M213.5 360.9h1.4M213.1 366.0h1.4M213.2 371.6h1.4M213.3 392.6h1.6M213.2 397.8h1.2M218.8 195.3h1.6M218.2 221.7h1.4M218.5 253.2h1.2M218.4 268.8h1.2M218.8 274.4h1.0M219.0 279.1h1.0M218.5 284.6h1.0M218.5 289.7h1.0M218.3 316.2h1.6M218.8 374.0h1.4M224.1 203.2h1.2M223.7 208.3h1.6M223.6 224.2h1.6M223.8 255.7h1.2M223.9 276.6h1.2M223.9 371.3h1.0M223.8 376.6h1.4M224.3 382.3h1.0M224.2 403.5h1.2M228.7 205.3h1.6M229.1 231.6h1.2M229.3 242.1h1.0M229.2 263.4h1.0M228.9 284.3h1.2M229.0 337.6h1.0M228.8 374.4h1.6M229.0 379.4h1.4M228.9 385.0h1.2M228.8 405.8h1.6M234.5 218.4h1.4M234.3 266.1h1.4M234.2 282.0h1.4M234.6 345.3h1.0M234.6 366.3h1.2M233.8 403.4h1.6M239.5 184.8h1.6M239.8 205.4h1.2M239.2 210.9h1.2M239.1 237.2h1.6M239.0 247.4h1.6M239.5 253.3h1.4M239.4 316.5h1.6M239.3 321.2h1.2M239.2 347.9h1.6M239.4 395.2h1.4M244.9 234.6h1.2M244.9 250.2h1.4M244.4 265.9h1.2M244.7 271.6h1.0M244.7 297.8h1.2M244.5 308.2h1.2M244.8 324.4h1.2M244.3 350.5h1.6M244.6 355.8h1.0M244.8 366.6h1.6M249.7 200.2h1.4M250.1 210.6h1.0M249.8 253.1h1.4M249.6 263.7h1.6M249.7 268.7h1.4M249.8 289.9h1.4M250.1 295.2h1.6M250.1 305.7h1.2M249.8 316.1h1.4M250.3 342.4h1.2M249.9 363.6h1.0M249.5 400.7h1.6M249.9 416.4h1.6M255.4 208.4h1.4M254.8 213.5h1.4M255.4 266.3h1.2M255.3 303.1h1.2M254.9 308.4h1.6M255.6 344.9h1.0M254.9 356.0h1.4M255.4 360.7h1.4M255.1 392.3h1.0M255.0 408.4h1.0M260.2 189.7h1.4M260.7 226.3h1.0M260.1 300.3h1.6M260.3 332.0h1.4M260.3 379.1h1.6M260.2 384.5h1.6M260.4 416.7h1.0M260.3 421.8h1.6M265.8 192.6h1.0M265.9 203.1h1.0M265.3 213.1h1.4M265.7 245.1h1.2M265.4 260.7h1.4M266.0 271.3h1.0M265.1 287.5h1.6M265.8 308.5h1.2M265.5 323.8h1.0M265.7 418.9h1.2M270.6 189.7h1.4M270.7 205.5h1.6M270.9 210.9h1.2M270.5 221.1h1.6M270.5 248.0h1.6M270.9 253.1h1.6M270.9 258.4h1.0M270.7 274.3h1.0M270.9 295.1h1.2M271.1 368.7h1.0M270.3 389.9h1.6M271.0 405.6h1.2M276.4 197.7h1.0M276.0 203.1h1.2M276.2 223.9h1.2M276.1 234.4h1.0M276.1 255.4h1.2M275.7 276.8h1.6M276.1 281.8h1.4M276.1 287.2h1.6M275.6 318.5h1.4M276.3 329.5h1.2M276.1 334.6h1.0M275.8 387.5h1.2M275.7 419.1h1.4M275.8 424.3h1.4M281.1 216.3h1.0M281.1 221.5h1.2M281.0 232.1h1.4M281.1 237.2h1.6M281.0 252.8h1.2M281.4 268.8h1.0M281.4 274.3h1.0M281.1 284.4h1.2M281.1 289.5h1.4M281.3 321.8h1.6M281.4 331.7h1.4M280.9 358.3h1.6M280.9 379.2h1.4M281.5 395.1h1.2M281.7 400.3h1.0M281.3 406.1h1.6M286.8 218.7h1.2M286.4 229.4h1.0M286.5 239.8h1.4M286.5 245.2h1.2M286.0 250.6h1.6M286.3 261.1h1.6M286.6 282.1h1.0M286.3 292.6h1.6M286.5 308.5h1.6M286.5 313.7h1.0M286.4 340.1h1.0M286.8 392.7h1.0M286.8 413.9h1.2M286.3 429.2h1.6M291.8 247.5h1.2M291.9 263.8h1.6M291.7 279.2h1.2M291.9 284.9h1.4M291.5 332.1h1.2M291.6 358.3h1.2M291.9 363.5h1.0M292.0 368.9h1.2M291.7 374.3h1.0M291.6 379.4h1.0M291.6 421.9h1.0M292.1 432.1h1.0M296.9 208.3h1.6M296.5 229.3h1.6M297.2 234.5h1.0M296.6 255.5h1.2M296.6 292.2h1.6M297.2 366.2h1.0M297.1 376.5h1.0M296.6 387.3h1.6M296.8 408.5h1.4M302.4 237.3h1.4M302.3 242.4h1.0M302.4 253.2h1.0M302.4 263.8h1.0M302.1 268.8h1.2M302.2 273.9h1.6M302.0 290.0h1.4M301.7 321.4h1.6M302.4 326.6h1.0M301.8 331.9h1.4M302.4 342.7h1.0M302.0 358.7h1.2M302.2 368.9h1.2M302.0 374.2h1.2M302.1 421.9h1.4M307.1 203.0h1.0M307.8 208.2h1.0M307.7 234.7h1.0M307.0 255.4h1.2M306.9 276.6h1.4M307.4 355.8h1.0M307.5 361.2h1.0M307.4 371.5h1.0M307.3 382.1h1.6M307.3 387.0h1.6M307.4 397.9h1.0M307.5 408.3h1.6M307.3 434.5h1.4M312.3 211.0h1.2M312.4 221.3h1.2M312.6 237.3h1.0M312.8 253.2h1.4M312.5 258.4h1.2M312.3 263.7h1.6M312.5 295.3h1.6M312.5 321.7h1.6M312.6 337.4h1.6M312.7 400.3h1.0M312.6 432.1h1.4M317.9 213.3h1.2M317.8 234.5h1.2M317.6 287.1h1.6M317.7 313.8h1.4M317.8 318.5h1.4M318.1 329.2h1.0M318.0 403.0h1.4M322.9 247.6h1.4M323.2 253.2h1.2M323.3 268.5h1.4M323.0 274.3h1.2M323.1 290.0h1.2M322.9 316.4h1.0M323.0 331.7h1.4M322.8 342.9h1.2M323.2 405.9h1.0M322.6 426.7h1.4M322.7 432.1h1.4M327.9 213.4h1.2M328.1 234.7h1.2M328.1 245.1h1.6M328.1 260.8h1.0M328.4 276.5h1.4M328.3 329.3h1.6M328.3 413.8h1.4M328.1 434.7h1.4M333.7 216.1h1.0M333.5 237.0h1.0M333.2 247.6h1.6M333.2 274.1h1.4M333.7 305.8h1.4M333.7 316.1h1.0M333.0 347.7h1.6M333.8 405.7h1.0M333.1 410.9h1.6M333.6 426.6h1.4M333.2 431.9h1.2M338.8 240.1h1.0M339.0 245.1h1.2M338.9 255.6h1.2M339.0 271.1h1.0M338.6 292.7h1.0M338.5 303.3h1.2M339.1 345.0h1.0M338.8 355.6h1.2M338.7 361.3h1.2M338.8 419.1h1.0M344.0 216.4h1.0M344.0 221.7h1.0M344.0 247.7h1.0M343.8 253.0h1.6M343.7 257.9h1.2M343.6 279.3h1.2M343.5 284.5h1.6M343.8 300.2h1.0M343.5 321.7h1.4M343.7 326.9h1.2M344.0 348.2h1.2M343.7 363.7h1.2M343.8 379.8h1.4M343.7 389.8h1.0M343.7 405.7h1.4M343.4 421.3h1.6M343.8 426.9h1.6M349.2 255.4h1.4M349.1 281.9h1.4M349.5 287.4h1.0M349.2 298.1h1.0M348.8 303.0h1.4M349.1 324.4h1.2M349.0 334.7h1.4M349.1 340.0h1.6M349.0 366.6h1.6M349.2 377.0h1.4M348.7 387.3h1.6M349.4 392.8h1.2M349.6 408.3h1.0M354.1 221.2h1.4M354.2 257.9h1.2M354.5 279.1h1.4M354.1 316.4h1.2M354.2 326.6h1.6M354.5 342.3h1.0M354.3 353.0h1.6M354.3 389.9h1.6M354.1 405.7h1.4M359.4 239.8h1.6M359.6 245.1h1.2M359.6 271.3h1.0M359.4 329.4h1.6M359.8 355.5h1.4M359.2 366.6h1.6M359.4 397.8h1.0M359.8 418.7h1.2M364.7 247.6h1.2M364.8 263.3h1.2M364.6 279.1h1.4M364.7 331.7h1.0M364.8 342.7h1.4M364.6 369.2h1.6M364.7 384.7h1.0M364.7 426.7h1.0M370.3 229.4h1.2M370.3 244.9h1.0M369.9 250.4h1.6M370.1 255.5h1.2M370.0 271.3h1.0M369.6 276.4h1.6M370.4 292.7h1.0M370.1 303.2h1.4M370.4 324.3h1.0M370.0 329.1h1.6M369.8 339.6h1.2M370.1 350.4h1.6M369.8 408.1h1.2M370.3 414.0h1.2M370.1 429.2h1.6M375.4 247.7h1.2M375.4 284.7h1.2M375.3 326.5h1.0M375.4 331.9h1.4M375.4 353.3h1.4M374.8 363.8h1.6M374.9 369.0h1.4M375.2 384.9h1.2M375.2 395.3h1.2M375.2 405.9h1.0M375.3 410.8h1.2M375.0 416.5h1.6M375.1 426.6h1.4M380.4 271.3h1.2M380.7 292.8h1.2M380.4 313.4h1.6M380.5 350.7h1.6M380.6 381.9h1.6M380.1 398.0h1.4M380.7 408.2h1.2M380.4 413.4h1.4M385.4 247.8h1.2M385.7 279.1h1.2M385.4 300.6h1.4M386.0 326.6h1.2M386.0 373.9h1.0M390.9 271.6h1.0M390.4 287.6h1.6M390.6 319.2h1.6M390.6 324.3h1.2M495.2 276.6h1.0M495.4 308.2h1.2M500.5 258.5h1.0M500.4 268.5h1.6M500.7 279.4h1.2M500.3 289.8h1.4M500.2 295.3h1.4M500.9 321.5h1.0M500.7 348.2h1.4M500.9 358.5h1.2M505.9 255.3h1.0M505.3 260.7h1.6M505.8 266.4h1.2M506.0 297.7h1.2M505.7 324.3h1.2M505.8 334.8h1.0M505.8 350.6h1.2M505.5 355.5h1.4M510.8 268.5h1.0M510.7 311.3h1.0M511.0 315.9h1.0M511.1 389.9h1.4M510.8 395.5h1.4M516.3 287.1h1.4M516.2 360.9h1.0M516.3 366.3h1.2M521.1 242.1h1.2M521.3 247.5h1.0M521.5 258.1h1.2M521.2 300.4h1.6M521.0 305.9h1.6M521.2 363.9h1.0M521.3 374.5h1.0M521.3 432.5h1.6M526.3 250.1h1.6M526.4 261.2h1.0M526.7 271.6h1.0M526.8 334.4h1.4M526.8 350.2h1.4M526.4 371.5h1.0M526.6 387.2h1.2M526.5 429.2h1.0M526.1 434.6h1.6M526.1 440.3h1.6M532.0 253.1h1.6M531.8 268.4h1.0M532.1 295.1h1.2M531.6 326.5h1.6M531.9 358.2h1.2M532.2 363.3h1.0M531.7 374.1h1.4M531.5 400.5h1.6M537.4 245.0h1.0M537.0 250.6h1.0M537.2 266.3h1.2M537.3 287.5h1.0M536.8 292.5h1.4M536.6 297.8h1.6M536.6 340.0h1.4M537.2 350.2h1.0M537.2 376.8h1.6M537.3 392.7h1.0M536.9 398.0h1.6M536.8 424.5h1.6M541.9 242.2h1.6M542.5 284.3h1.4M542.7 347.8h1.0M542.3 374.1h1.2M542.4 390.0h1.0M542.3 405.7h1.0M542.4 421.9h1.6M542.1 458.3h1.0M542.5 464.0h1.4M547.6 239.5h1.2M547.9 255.4h1.0M547.5 281.8h1.0M547.5 298.0h1.4M547.7 303.2h1.0M547.8 308.5h1.0M547.1 329.3h1.6M547.6 340.2h1.0M547.5 350.6h1.0M547.3 366.2h1.2M547.5 376.7h1.2M547.3 387.7h1.6M547.6 392.7h1.0M547.5 450.4h1.4M552.6 274.1h1.6M552.4 290.1h1.2M552.8 315.9h1.6M552.8 321.6h1.0M553.0 358.2h1.2M552.7 379.7h1.2M553.0 406.1h1.4M552.8 411.1h1.6M552.3 416.2h1.4M553.0 437.3h1.0M552.6 469.0h1.2M558.0 240.1h1.6M557.9 260.9h1.6M557.8 292.4h1.2M558.2 313.8h1.0M558.3 339.9h1.2M557.6 350.2h1.4M557.6 366.0h1.6M558.2 371.4h1.0M557.7 429.2h1.4M562.8 242.3h1.6M563.3 321.2h1.4M563.3 395.1h1.2M562.8 421.4h1.4M562.7 437.2h1.6M563.4 448.1h1.2M563.0 458.7h1.6M563.6 464.1h1.0M563.4 479.3h1.0M568.3 250.3h1.0M568.6 281.8h1.4M568.2 298.0h1.0M568.0 371.7h1.4M568.1 387.3h1.6M568.3 408.5h1.2M568.3 413.9h1.6M568.8 424.1h1.0M568.4 450.4h1.6M573.8 247.6h1.2M573.6 253.3h1.4M573.6 263.5h1.6M573.3 268.7h1.4M573.1 279.4h1.6M573.3 284.7h1.2M573.5 295.5h1.6M573.2 311.2h1.4M573.8 336.9h1.4M573.7 347.9h1.0M573.7 390.1h1.4M573.6 400.9h1.2M573.7 421.7h1.2M573.2 427.0h1.6M579.1 302.7h1.0M579.1 339.9h1.0M578.9 345.2h1.4M579.1 392.7h1.2M579.0 398.1h1.0M579.0 403.0h1.4M579.1 423.9h1.0M578.9 455.8h1.6M583.9 242.4h1.0M584.1 263.4h1.0M584.0 274.1h1.6M583.7 279.1h1.6M584.1 306.0h1.4M584.5 321.7h1.0M583.6 337.1h1.6M584.0 469.1h1.0M589.0 245.2h1.4M589.1 250.4h1.6M589.1 260.9h1.4M589.1 271.3h1.0M588.9 292.7h1.6M589.5 298.0h1.0M589.1 334.4h1.6M589.4 429.6h1.6M589.4 445.1h1.4M589.4 477.2h1.2M594.8 258.6h1.2M594.5 268.7h1.2M594.7 284.9h1.0M594.4 305.6h1.6M594.7 326.6h1.0M594.6 331.7h1.4M594.4 337.3h1.0M594.3 347.7h1.2M594.7 358.4h1.2M594.3 363.8h1.2M594.4 368.9h1.0M594.0 442.4h1.6M594.1 458.6h1.6M594.5 463.8h1.6M599.5 255.7h1.6M600.0 271.3h1.2M599.4 281.9h1.4M599.8 297.5h1.0M599.8 308.4h1.0M599.3 318.6h1.4M600.1 350.1h1.0M599.5 387.7h1.6M599.9 461.4h1.4M599.6 482.3h1.0M604.6 279.4h1.6M605.2 300.2h1.0M604.7 316.3h1.2M604.5 327.0h1.6M605.2 337.2h1.2M604.7 342.9h1.0M604.8 353.4h1.6M605.2 421.8h1.2M604.7 437.3h1.0M604.4 484.9h1.6M610.4 255.8h1.2M610.4 276.4h1.0M610.2 282.2h1.2M610.3 298.0h1.2M610.0 318.6h1.6M610.1 350.4h1.0M610.2 355.5h1.2M610.1 413.5h1.2M610.0 419.2h1.4M610.0 434.7h1.6M609.9 445.0h1.6M610.0 450.3h1.4M610.3 471.5h1.0M615.4 247.8h1.4M615.2 253.1h1.2M615.7 258.1h1.2M615.2 273.8h1.0M615.6 289.7h1.0M615.3 295.1h1.2M615.4 321.4h1.4M615.2 353.1h1.2M615.3 416.3h1.0M615.2 474.5h1.4M620.3 282.3h1.4M620.2 313.4h1.6M620.4 319.1h1.2M620.4 329.2h1.0M620.9 334.3h1.0M620.5 366.1h1.0M620.5 381.9h1.2M620.7 392.4h1.2M620.5 413.9h1.4M620.7 424.0h1.6M620.6 434.5h1.0M620.2 440.3h1.4M620.2 455.7h1.6M620.8 471.8h1.0M625.6 253.0h1.0M626.0 258.3h1.4M625.8 300.4h1.0M625.6 326.6h1.2M625.8 337.5h1.6M626.1 342.7h1.0M625.6 353.4h1.0M625.6 374.3h1.6M626.0 384.8h1.4M625.3 437.6h1.6M625.4 448.1h1.6M630.7 276.6h1.4M631.2 303.3h1.2M631.2 308.0h1.4M631.0 340.2h1.2M631.2 361.1h1.4M631.0 392.5h1.2M631.0 424.1h1.0M631.4 429.5h1.0M630.7 439.7h1.4M630.8 450.7h1.2M631.1 476.8h1.4M636.6 252.7h1.0M636.6 263.3h1.0M636.0 300.1h1.2M636.2 305.4h1.0M636.2 311.1h1.6M635.9 332.2h1.6M636.3 358.1h1.4M636.4 368.9h1.2M636.1 385.0h1.2M636.0 389.6h1.2M635.9 394.9h1.4M635.9 416.2h1.4M636.0 437.2h1.4M636.2 458.6h1.0M636.6 479.4h1.0M641.1 281.7h1.4M641.8 297.8h1.2M641.0 308.1h1.6M641.2 334.6h1.4M640.9 356.0h1.6M641.6 381.8h1.0M641.3 392.6h1.2M641.6 397.6h1.0M641.5 461.0h1.6M641.2 466.4h1.2M646.4 252.6h1.4M646.6 263.3h1.2M646.8 279.6h1.4M646.6 290.1h1.6M647.1 305.4h1.0M647.1 347.9h1.0M646.6 390.1h1.6M646.7 405.5h1.4M646.9 411.3h1.2M646.6 421.6h1.0M646.3 432.4h1.4M646.9 442.8h1.2M646.4 458.4h1.4M646.6 479.3h1.2M646.5 484.6h1.4M651.8 255.4h1.0M651.7 282.3h1.6M652.1 297.7h1.4M651.6 319.2h1.2M651.8 334.3h1.2M652.1 344.9h1.4M651.6 371.7h1.4M651.7 377.0h1.6M652.1 382.3h1.0M651.7 387.7h1.2M652.1 398.0h1.4M651.5 403.3h1.4M651.9 408.3h1.0M651.6 434.5h1.6M651.8 455.6h1.2M651.9 466.5h1.0M651.6 471.7h1.4M652.1 476.6h1.4M652.1 481.9h1.4M656.8 247.9h1.4M657.3 253.2h1.0M656.7 263.4h1.4M657.2 300.2h1.2M656.6 337.4h1.6M656.9 379.5h1.4M656.6 400.4h1.6M656.6 411.1h1.6M657.0 437.3h1.6M656.8 452.9h1.4M657.0 485.2h1.2M662.4 271.1h1.6M662.1 302.7h1.2M662.3 308.3h1.6M662.1 350.7h1.6M662.3 355.7h1.0M661.8 376.9h1.6M662.5 382.3h1.4M662.5 434.8h1.0M661.9 440.0h1.4M662.3 450.9h1.6M662.3 471.8h1.4M662.4 493.0h1.6M662.0 497.8h1.6M667.4 279.3h1.0M667.7 316.5h1.4M667.7 342.9h1.2M667.7 358.5h1.0M667.7 374.3h1.2M667.7 384.4h1.2M667.7 463.5h1.0M672.8 292.5h1.2M673.1 297.8h1.0M672.5 303.1h1.2M672.6 313.2h1.6M672.9 334.5h1.0M672.4 339.9h1.6M672.8 355.5h1.2M672.7 429.5h1.6M677.7 274.1h1.6M677.8 279.5h1.2M678.1 300.2h1.2M678.3 305.4h1.0M677.9 321.7h1.2M678.2 342.3h1.2M678.0 347.9h1.2M677.8 374.5h1.6M678.1 400.4h1.4M678.2 421.6h1.2M678.4 437.6h1.0M678.0 447.7h1.0M677.9 474.1h1.4M677.8 479.3h1.2M677.7 489.8h1.4M683.1 250.6h1.6M682.8 292.5h1.4M683.1 302.9h1.4M683.1 329.7h1.6M683.1 334.8h1.4M682.7 376.9h1.6M683.1 398.1h1.2M683.0 419.2h1.0M683.2 429.6h1.0M683.2 445.4h1.6M683.6 492.6h1.0M688.3 253.0h1.0M688.1 294.9h1.4M688.4 305.3h1.4M688.4 310.9h1.6M688.8 316.4h1.0M688.4 363.3h1.0M688.3 453.2h1.0M688.6 458.7h1.0M688.3 463.7h1.0M688.0 474.4h1.6M688.5 495.5h1.4M693.5 250.3h1.2M693.4 282.0h1.4M693.8 355.7h1.2M693.4 360.8h1.6M693.4 377.1h1.0M693.4 382.2h1.2M693.7 398.1h1.6M693.7 424.5h1.6M693.7 440.1h1.4M693.9 461.1h1.2M693.7 482.1h1.4M693.8 487.4h1.2M694.1 493.0h1.0M698.8 274.4h1.0M699.0 284.9h1.2M699.0 289.7h1.2M698.6 305.4h1.4M698.8 315.9h1.2M699.1 326.7h1.4M698.6 337.3h1.4M699.2 342.3h1.0M698.9 369.1h1.2M698.7 384.6h1.0M698.9 416.1h1.6M698.9 442.9h1.4M699.1 458.4h1.0M698.6 468.8h1.4M698.7 479.7h1.2M698.5 489.8h1.6M704.2 261.0h1.4M703.7 265.9h1.4M703.7 271.4h1.6M704.3 297.6h1.4M704.3 303.1h1.0M704.0 313.3h1.2M704.1 324.2h1.6M703.8 329.1h1.4M704.0 345.0h1.2M704.2 361.3h1.6M703.8 413.8h1.2M703.6 419.0h1.6M704.4 445.1h1.0M704.2 471.7h1.2M709.2 263.2h1.6M709.5 369.1h1.2M709.3 384.5h1.2M709.1 437.4h1.2M708.8 463.8h1.6M709.1 468.8h1.2M709.4 489.9h1.2M714.5 260.7h1.0M714.2 266.4h1.2M714.5 271.2h1.6M714.4 276.5h1.0M714.5 319.0h1.2M714.6 339.8h1.4M714.3 376.7h1.4M714.8 408.7h1.2M714.4 413.4h1.0M714.2 419.0h1.6M714.1 439.8h1.4M714.6 450.6h1.2M714.2 476.8h1.6M719.8 258.1h1.4M719.7 263.3h1.4M719.4 268.4h1.6M719.6 279.4h1.2M719.5 290.2h1.4M719.9 295.0h1.4M719.4 332.1h1.6M719.7 379.5h1.4M719.8 400.6h1.0M719.6 405.5h1.6M719.4 411.2h1.2M720.1 432.5h1.0M719.4 448.2h1.4M719.6 453.1h1.4M719.9 458.2h1.0M719.8 463.7h1.4M720.0 474.2h1.4M719.8 484.8h1.0M719.8 490.1h1.6M725.1 292.6h1.0M725.0 308.4h1.4M724.8 329.2h1.0M725.2 334.7h1.4M724.6 344.9h1.4M724.7 366.2h1.4M724.9 424.0h1.6M725.0 456.1h1.2M725.3 461.1h1.0M730.1 257.9h1.0M730.0 263.3h1.4M729.9 269.1h1.2M730.6 327.0h1.0M729.8 358.5h1.6M730.2 363.6h1.4M729.8 374.3h1.6M730.3 384.6h1.0M730.4 447.9h1.4M730.0 453.6h1.4M730.3 458.7h1.4M729.9 490.0h1.6M735.4 255.6h1.0M735.4 266.2h1.2M735.2 334.4h1.2M735.1 376.8h1.2M735.7 392.6h1.0M735.9 403.0h1.0M735.6 408.3h1.0M735.3 424.6h1.6M735.2 471.6h1.4M735.7 487.7h1.4M740.8 258.2h1.6M740.9 263.3h1.4M740.3 289.9h1.6M740.7 305.8h1.6M740.2 321.2h1.6M740.9 337.6h1.2M740.9 358.6h1.4M741.0 384.5h1.0M740.6 405.6h1.6M740.5 410.8h1.6M740.8 421.5h1.4M740.8 442.7h1.2M740.2 458.5h1.6M745.7 266.2h1.0M745.8 350.1h1.6M745.9 355.5h1.2M745.8 377.1h1.6M746.0 487.4h1.2M745.9 492.9h1.0M751.1 263.6h1.0M750.9 274.3h1.2M751.0 284.5h1.0M750.6 290.0h1.6M750.8 321.3h1.4M750.7 331.9h1.2M751.1 358.7h1.6M751.2 368.7h1.4M750.9 400.4h1.4M750.9 432.2h1.0M750.9 468.8h1.2M751.0 474.4h1.4M756.2 287.2h1.6M756.7 297.8h1.0M756.3 324.1h1.0M756.4 345.4h1.6M756.6 356.0h1.2M755.9 371.4h1.6M756.2 376.9h1.4M755.9 450.5h1.4M756.7 455.5h1.0M756.4 466.6h1.6M756.0 471.9h1.4M756.4 476.7h1.2M755.8 482.4h1.6M761.6 305.4h1.6M761.2 311.3h1.6M761.7 395.4h1.4M761.3 405.9h1.4M761.6 421.5h1.0M761.9 437.7h1.0M761.6 463.9h1.6M761.5 468.9h1.6M761.7 474.0h1.4M767.1 276.6h1.0M766.4 287.3h1.6M766.9 308.2h1.4M766.4 339.8h1.4M766.4 398.1h1.4M766.5 413.9h1.4M766.8 424.2h1.6M766.4 435.1h1.4M771.9 295.0h1.4M771.9 321.3h1.2M771.9 337.1h1.0M772.0 353.4h1.2M772.0 369.2h1.6M771.9 421.8h1.4M771.6 437.2h1.4M771.7 442.7h1.2M771.8 453.0h1.4M771.7 474.2h1.2M777.3 297.6h1.4M776.9 313.5h1.4M777.4 318.6h1.0M777.3 339.8h1.4M777.4 344.9h1.2M777.2 377.1h1.6M777.1 381.8h1.0M776.8 403.0h1.6M776.9 424.4h1.6M782.1 305.4h1.4M782.1 348.2h1.4M782.2 358.2h1.4M782.4 363.9h1.6M782.3 390.0h1.2M782.0 405.5h1.6M782.6 442.8h1.4" stroke="#111" stroke-width="1.25" opacity="1.00" fill="none"/>
<path d="M175.2 175.0C176.4 173.1 177.6 172.4 179.8 171.6C182.0 170.8 184.6 170.4 188.5 170.4C192.4 170.4 196.7 170.3 203.2 171.3C209.7 172.3 215.7 173.3 227.3 176.4C238.9 179.5 259.2 185.8 272.9 190.1C286.6 194.4 297.2 197.9 309.3 202.0C321.4 206.1 336.6 211.2 345.7 214.7C354.8 218.2 358.7 220.0 363.9 222.9C369.1 225.8 373.0 228.8 376.7 232.0C380.4 235.2 383.4 238.5 385.8 242.0C388.2 245.5 389.5 248.1 391.0 252.9C392.5 257.8 394.0 264.6 394.6 271.1C395.2 277.6 395.0 286.1 394.8 292.0C394.6 297.9 394.2 299.8 393.7 306.4C393.2 313.0 392.3 323.0 391.7 331.9C391.1 340.8 390.7 350.8 390.1 360.0C389.5 369.2 389.2 378.2 388.3 387.3C387.4 396.4 386.6 407.3 384.6 414.6C382.6 421.9 380.2 427.1 376.4 431.0C372.6 434.9 367.2 436.5 362.0 437.9C356.8 439.3 350.7 439.4 345.0 439.6C339.3 439.8 335.6 439.8 327.8 439.0C320.1 438.2 308.2 436.9 298.5 434.9C288.8 432.9 277.4 429.4 269.3 426.8C261.2 424.2 258.4 423.4 249.8 419.5C241.2 415.6 226.4 409.2 217.9 403.6C209.4 398.0 203.8 392.7 198.8 386.1C193.8 379.5 190.6 372.8 187.7 363.8C184.8 354.8 182.9 342.5 181.3 331.9C179.7 321.3 178.9 308.1 178.1 300.0C177.3 291.9 177.3 292.7 176.3 283.0C175.3 273.3 173.1 254.0 172.2 241.6C171.3 229.2 171.1 216.4 171.0 208.5C170.9 200.6 171.1 198.2 171.4 193.9C171.7 189.7 172.0 186.2 172.6 183.0C173.2 179.8 174.0 176.9 175.2 175.0Z" fill="none" stroke="#000" stroke-width="2.4" stroke-linejoin="round"/>
<path d="M493.9 267.4C494.6 261.8 495.4 258.3 497.5 254.7C499.6 251.1 502.4 248.0 506.6 245.6C510.9 243.2 517.7 241.2 523.0 240.1C528.3 239.0 526.2 238.8 538.3 239.0C550.4 239.2 575.4 239.9 595.6 241.0C615.8 242.1 638.1 243.9 659.4 245.8C680.7 247.7 707.3 250.1 723.2 252.2C739.1 254.3 747.0 255.8 755.0 258.5C763.0 261.1 766.5 263.6 771.0 268.1C775.5 272.6 779.5 277.4 782.1 285.6C784.7 293.8 785.8 308.4 786.6 317.5C787.5 326.6 787.1 330.4 787.2 340.0C787.3 349.6 787.5 361.7 787.2 375.0C786.9 388.3 786.4 406.3 785.5 420.0C784.6 433.7 783.5 447.7 781.6 457.0C779.7 466.3 777.5 470.4 774.1 475.7C770.7 481.0 766.9 485.6 761.0 488.8C755.1 492.0 749.5 493.4 738.6 495.1C727.7 496.8 708.1 498.3 695.6 498.8C683.1 499.3 673.2 498.5 663.8 497.9C654.4 497.3 648.9 496.6 639.1 495.4C629.3 494.2 614.7 492.4 605.2 490.8C595.8 489.2 590.0 488.0 582.4 485.8C574.8 483.6 566.2 481.1 559.7 477.9C553.2 474.7 548.7 471.4 543.7 466.5C538.7 461.6 533.8 455.1 529.5 448.3C525.2 441.5 521.4 433.1 518.0 425.5C514.6 417.9 511.6 410.4 509.3 402.8C507.0 395.2 505.5 387.1 504.0 380.0C502.5 372.9 501.7 370.8 500.3 360.0C498.9 349.2 496.9 327.5 495.7 315.5C494.5 303.5 493.3 296.2 493.0 288.2C492.7 280.2 493.1 273.0 493.9 267.4Z" fill="none" stroke="#000" stroke-width="2.4" stroke-linejoin="round"/>
<path d="M140.6 141.6C144.9 138.7 156.5 130.0 166.4 124.2C176.3 118.4 183.3 115.3 200.0 107.0C216.7 98.7 243.9 84.8 266.6 74.5C289.3 64.2 318.7 52.2 336.4 45.0C354.1 37.8 362.3 34.7 372.9 31.0C383.5 27.3 392.6 24.6 400.2 22.8C407.8 21.0 412.9 20.8 418.4 20.3C423.9 19.8 428.4 19.7 433.0 20.0C437.6 20.3 442.1 20.9 445.7 22.0C449.3 23.1 451.8 24.3 454.8 26.4C457.8 28.5 459.1 30.7 463.9 34.6C468.7 38.5 475.5 43.8 483.7 50.0C491.9 56.2 502.0 63.7 512.9 71.9C523.8 80.1 538.7 91.2 549.3 99.2C559.9 107.2 570.5 115.4 576.6 120.1C582.7 124.8 583.4 125.0 585.7 127.4C588.0 129.8 589.4 132.4 590.3 134.7C591.1 137.0 591.6 138.7 590.8 141.1C590.0 143.5 588.4 146.9 585.7 149.3C583.0 151.7 579.0 153.9 574.8 155.6C570.5 157.3 563.9 158.7 560.2 159.3C556.6 159.9 554.7 159.8 552.9 159.3C551.1 158.9 554.4 162.1 549.3 156.6C544.1 151.1 531.1 136.7 522.0 126.5C512.9 116.3 503.7 105.4 494.6 95.5C485.5 85.6 473.9 73.7 467.3 67.3C460.7 60.9 458.7 59.9 454.8 57.0C450.9 54.1 447.2 51.5 443.9 50.1C440.6 48.7 438.1 48.6 434.8 48.8C431.5 48.9 428.1 49.4 423.9 51.0C419.6 52.6 414.8 55.3 409.3 58.3C403.8 61.3 398.7 64.3 391.1 69.2C383.5 74.1 374.4 80.4 363.8 87.4C353.2 94.5 339.0 103.6 327.3 111.5C315.6 119.4 304.8 126.9 293.9 134.7C283.0 142.5 267.4 154.4 262.1 158.4" fill="none" stroke="#000" stroke-width="2.4" stroke-linecap="round" stroke-linejoin="round"/>
<path d="M172.8 131.6C182.3 126.8 214.4 110.4 230.0 102.5C245.6 94.6 253.3 90.4 266.6 84.3C279.9 78.2 292.3 73.4 310.0 65.9C327.7 58.4 357.9 45.6 372.9 39.5C387.9 33.4 392.6 31.8 400.2 29.4C407.8 27.0 412.9 26.1 418.4 25.0C423.9 23.9 428.4 23.5 433.0 23.1C437.6 22.7 443.0 22.7 445.7 22.8C448.4 22.9 448.8 23.6 449.4 23.7" fill="none" stroke="#000" stroke-width="2.4" stroke-linecap="round" stroke-linejoin="round"/>
<path d="M172.7 131.5C177.2 132.9 185.1 135.4 200.0 140.0C214.9 144.6 243.7 153.2 261.9 158.8C280.1 164.4 295.3 169.5 309.3 173.7C323.3 177.8 335.1 180.3 345.7 183.7C356.3 187.0 365.4 190.6 373.0 193.8C380.6 197.0 386.8 200.3 391.3 202.9C395.8 205.5 396.9 206.9 400.0 209.2C403.1 211.4 406.3 212.5 410.1 216.4C413.9 220.3 418.3 228.6 422.9 232.8C427.4 237.1 432.5 239.9 437.4 241.9C442.2 243.9 447.1 244.4 452.0 244.7C456.9 245.0 461.8 245.2 466.6 243.8C471.5 242.4 476.2 239.4 481.1 236.5C486.0 233.6 492.1 228.4 495.7 226.4C499.3 224.4 498.9 225.5 502.8 224.6C506.7 223.7 513.7 221.8 519.2 221.0C524.7 220.2 527.4 219.8 535.6 219.5C543.8 219.2 557.4 219.0 568.3 218.9C579.2 218.8 587.5 218.7 601.1 219.0C614.7 219.3 635.0 220.0 650.0 220.7C665.0 221.4 671.3 222.4 691.3 223.2C711.3 223.9 747.7 224.1 770.0 225.2C792.3 226.3 816.1 229.0 825.3 229.8" fill="none" stroke="#000" stroke-width="2.4" stroke-linecap="round" stroke-linejoin="round"/>
<path d="M140.5 141.4C150.4 144.1 181.0 152.4 200.0 157.3C219.0 162.2 236.4 166.3 254.6 171.0C272.8 175.7 294.1 181.3 309.3 185.6C324.5 189.8 335.1 192.7 345.7 196.5C356.3 200.3 365.4 204.5 373.0 208.3C380.6 212.1 386.0 215.5 391.3 219.3C396.6 223.1 399.3 227.1 404.6 231.0C409.9 234.9 416.8 239.9 422.9 242.8C429.0 245.7 435.0 247.4 441.1 248.3C447.2 249.2 453.8 249.1 459.3 248.3C464.8 247.6 469.0 246.4 473.9 243.8C478.8 241.2 484.8 235.4 488.4 232.8C492.0 230.2 493.3 229.0 495.7 228.0C498.1 227.0 498.9 227.3 502.8 226.6C506.7 225.9 513.7 224.7 519.2 224.0C524.7 223.3 527.4 222.8 535.6 222.5C543.8 222.2 557.4 222.3 568.3 222.5C579.2 222.7 587.5 222.8 601.1 223.4C614.7 224.1 635.0 225.5 650.0 226.4C665.0 227.3 678.8 227.9 691.0 228.7C703.2 229.5 710.0 229.9 723.2 231.0C736.4 232.1 753.0 233.0 770.0 235.2C787.0 237.3 815.8 242.4 825.0 243.9" fill="none" stroke="#000" stroke-width="2.4" stroke-linecap="round" stroke-linejoin="round"/>
<path d="M140.5 141.4L142.0 180.0L143.5 216.1" fill="none" stroke="#000" stroke-width="2.4" stroke-linecap="round" stroke-linejoin="round"/>
<path d="M143.5 216.1C144.7 217.7 148.6 220.8 150.9 225.6C153.2 230.4 155.3 236.8 157.2 244.8C159.0 252.8 160.6 264.2 162.0 273.4C163.4 282.6 164.2 290.2 165.5 300.0C166.8 309.8 167.9 319.8 170.0 332.0C172.1 344.2 174.9 362.2 178.1 373.3C181.3 384.4 183.7 390.8 189.3 398.8C194.9 406.8 202.6 415.0 211.6 421.1C220.6 427.2 232.8 431.2 243.4 435.5C254.0 439.8 264.7 443.4 275.3 446.6C285.9 449.8 296.6 452.6 307.2 454.6C317.8 456.6 331.8 457.8 339.1 458.4C346.4 459.0 346.2 459.3 350.9 458.4C355.6 457.5 361.8 456.5 367.3 452.9C372.8 449.2 379.1 442.9 383.7 436.5C388.2 430.1 391.4 422.8 394.6 414.6C397.8 406.4 400.5 396.4 402.8 387.3C405.1 378.2 406.9 367.4 408.3 360.0C409.7 352.6 409.3 350.3 411.0 342.9C412.7 335.5 415.9 322.2 418.3 315.5C420.7 308.8 422.9 306.0 425.6 302.8C428.3 299.6 433.2 297.5 434.7 296.4" fill="none" stroke="#000" stroke-width="2.4" stroke-linecap="round" stroke-linejoin="round"/>
<path d="M380.1 440.1C381.5 437.4 385.9 431.1 388.3 423.8C390.7 416.5 393.1 403.4 394.6 396.4C396.1 389.4 396.2 388.1 397.3 382.0C398.4 375.9 399.9 366.5 401.0 360.0C402.1 353.5 402.3 350.3 403.7 342.9C405.1 335.5 407.4 322.2 409.2 315.5C411.0 308.8 412.2 306.0 414.6 302.8C417.0 299.6 420.5 297.6 423.8 296.4C427.1 295.2 429.6 295.2 434.7 295.5C439.8 295.8 449.8 296.4 454.7 298.2C459.6 300.0 460.8 302.0 463.8 306.4C466.8 310.8 470.2 317.0 472.9 324.6C475.6 332.2 477.8 342.8 480.2 352.0C482.6 361.2 485.2 371.5 487.5 380.0C489.8 388.5 491.1 394.4 493.7 402.8C496.2 411.2 499.0 421.4 502.8 430.1C506.6 438.8 511.5 447.5 516.4 455.1C521.3 462.7 527.0 470.1 532.3 475.6C537.6 481.1 541.8 484.3 548.3 488.1C554.8 491.9 561.5 494.9 571.0 498.3C580.5 501.7 593.8 505.6 605.2 508.6C616.6 511.6 625.7 514.3 639.3 516.1C652.9 517.9 672.2 519.1 686.9 519.3C701.6 519.5 717.6 517.8 727.5 517.1C737.4 516.4 739.3 516.3 746.1 515.0C752.9 513.7 762.6 512.1 768.5 509.3C774.4 506.5 777.9 503.1 781.6 498.1C785.3 493.1 788.3 486.9 790.9 479.4C793.5 471.9 795.6 462.6 797.3 453.3C799.0 444.0 799.9 433.4 801.0 423.4C802.1 413.4 802.9 403.5 804.0 393.5C805.1 383.5 806.5 371.4 807.8 363.6C809.0 355.8 809.8 350.9 811.5 346.7C813.2 342.5 816.8 339.6 817.8 338.2" fill="none" stroke="#000" stroke-width="2.4" stroke-linecap="round" stroke-linejoin="round"/>
<path d="M817.8 338.2C822.3 334.3 829.5 326.7 844.6 314.8C859.7 302.9 895.1 276.9 908.4 267.0C921.7 257.1 913.7 263.0 924.3 255.1C934.9 247.2 960.8 228.7 972.1 219.4C983.4 210.1 985.8 205.5 992.1 199.3C998.4 193.1 1005.4 186.9 1010.0 182.0C1014.6 177.1 1015.5 174.7 1019.6 169.6C1023.7 164.5 1030.3 156.1 1034.6 151.2C1038.9 146.3 1042.6 143.1 1045.6 140.1C1048.6 137.1 1050.7 134.5 1052.8 132.9C1054.9 131.3 1056.5 130.7 1058.0 130.6C1059.5 130.5 1060.7 131.2 1061.9 132.3C1063.1 133.5 1064.6 136.6 1065.1 137.5" fill="none" stroke="#000" stroke-width="2.4" stroke-linecap="round" stroke-linejoin="round"/>
<path d="M825.3 229.8C827.4 228.5 828.6 227.2 838.2 221.8C847.8 216.4 864.3 208.3 882.9 197.4C901.5 186.5 934.5 165.9 950.0 156.4C965.5 146.9 967.3 145.9 976.0 140.7C984.7 135.5 994.4 129.4 1002.0 125.1C1009.6 120.8 1016.2 117.3 1021.6 114.7C1027.0 112.1 1030.9 110.8 1034.6 109.5C1038.3 108.2 1040.7 107.4 1043.7 106.7C1046.7 106.0 1050.2 105.4 1052.8 105.4C1055.4 105.4 1057.5 105.8 1059.3 106.7C1061.1 107.6 1062.6 109.0 1063.8 110.8C1065.0 112.6 1065.8 114.7 1066.4 117.3C1067.1 119.9 1067.6 123.6 1067.7 126.4C1067.8 129.2 1067.5 132.3 1067.1 134.2C1066.7 136.0 1065.4 136.9 1065.1 137.5" fill="none" stroke="#000" stroke-width="2.4" stroke-linecap="round" stroke-linejoin="round"/>
<path d="M825.0 243.9C829.4 241.5 838.6 237.1 851.3 229.3C864.0 221.6 884.6 208.0 901.1 197.4C917.6 186.8 937.5 173.5 950.0 165.5C962.5 157.5 967.3 154.8 976.0 149.2C984.7 143.5 994.4 136.6 1002.0 131.6C1009.6 126.6 1016.2 122.4 1021.6 119.3C1027.0 116.2 1030.7 114.6 1034.6 112.8C1038.5 111.0 1042.0 109.4 1045.0 108.2C1048.0 107.0 1051.5 106.0 1052.8 105.6" fill="none" stroke="#000" stroke-width="2.4" stroke-linecap="round" stroke-linejoin="round"/>
<path d="M1045.9 140.1L1045.6 190.0L1044.5 216.2L1044.1 240.1L1050.7 245.8L1054.1 250.9L1060.4 250.9L1061.5 244.6" fill="none" stroke="#000" stroke-width="2.3" stroke-linejoin="round"/>
<path d="M1064.5 137.5L1063.8 190.0L1063.0 211.6L1062.7 229.8L1061.9 243.5" fill="none" stroke="#000" stroke-width="2.3" stroke-linejoin="round"/>
<path d="M1063.3 212.2L1068.4 212.5L1069.7 234.4L1066.1 241.8L1062.1 244.4" fill="none" stroke="#000" stroke-width="2.3" stroke-linejoin="round"/>
<path d="M821.7 245.5L817.3 338.0" fill="none" stroke="#888" stroke-width="0.8"/>
<path d="M171.6 208.1C174.0 206.5 180.6 201.8 186.0 198.5C191.4 195.2 197.1 191.9 204.0 188.5C210.9 185.1 223.5 179.6 227.4 177.8" fill="none" stroke="#222" stroke-width="0.9" stroke-dasharray="2 1"/>
<path d="M842.4 257.7L863.5 245.2L863.5 278.0L842.4 290.2Z" fill="none" stroke="#000" stroke-width="2.3" stroke-linejoin="miter"/>
<rect x="453.7" y="260.7" width="27.7" height="27.5" fill="none" stroke="#555" stroke-width="0.85"/>
<path d="M417.6 253.1L422.4 260.7L431.3 259.7L428.3 268.2L434.7 274.5L426.2 277.5L425.2 286.4L417.6 281.6L410.0 286.4L409.0 277.5L400.5 274.5L406.9 268.2L403.9 259.7L412.8 260.7Z" fill="#fff" stroke="#555" stroke-width="0.85"/>
<path d="M144.3 191.5L149.7 181.8L160.3 181.8L165.7 191.5L160.3 201.2L149.7 201.2Z" fill="#000"/>
<path d="M787.9 272.4L793.4 262.6L804.4 262.6L809.9 272.4L804.4 282.1L793.4 282.1Z" fill="#000"/>
<circle cx="266.3" cy="433.8" r="8.9" fill="#000"/>
<circle cx="655.4" cy="505.4" r="9.2" fill="#000"/>
<path d="M79.5 158.8C81.2 158.8 86.5 158.1 89.9 158.8C93.3 159.5 96.2 160.4 99.7 162.9C103.2 165.4 107.0 170.4 110.6 173.9C114.2 177.4 118.0 181.2 121.5 183.7C125.0 186.2 128.3 187.9 131.4 189.1C134.5 190.3 137.6 190.4 139.9 190.8C142.2 191.2 144.2 191.4 145.0 191.5" fill="none" stroke="#000" stroke-width="2.3" stroke-linecap="round"/>
<path d="M411.9 190.0C413.0 192.3 417.4 198.7 418.3 203.7C419.2 208.7 418.5 214.0 417.4 220.1C416.3 226.2 413.2 235.1 411.9 240.1C410.6 245.1 409.9 246.7 409.6 250.0C409.3 253.3 409.9 258.3 410.0 260.0" fill="none" stroke="#000" stroke-width="2.3" stroke-linecap="round"/>
<path d="M488.4 206.0C488.5 207.7 489.9 212.5 489.3 216.4C488.7 220.3 487.4 224.9 484.8 229.2C482.2 233.4 477.4 237.7 473.9 241.9C470.4 246.2 466.0 250.8 463.8 254.7C461.6 258.6 461.0 262.7 460.7 265.6C460.4 268.5 461.8 270.9 462.0 272.0" fill="none" stroke="#000" stroke-width="2.3" stroke-linecap="round"/>
<path d="M785.3 193.8C786.1 194.8 788.6 197.3 790.3 200.0C791.9 202.7 794.5 205.7 795.2 209.8C795.9 213.9 795.1 219.2 794.4 224.4C793.7 229.6 791.5 236.1 791.1 240.7C790.7 245.3 791.0 248.3 792.0 252.0C793.0 255.7 796.0 260.8 796.8 262.6" fill="none" stroke="#000" stroke-width="2.3" stroke-linecap="round"/>
<path d="M892.3 124.9C892.3 126.4 892.7 130.4 892.3 133.7C891.9 137.0 891.4 141.0 890.1 144.6C888.8 148.2 887.4 151.6 884.7 155.5C882.0 159.4 877.4 163.7 873.8 168.3C870.1 172.9 865.7 178.1 862.8 182.9C859.9 187.8 857.6 192.9 856.4 197.4C855.2 201.9 855.6 208.1 855.5 210.2" fill="none" stroke="#000" stroke-width="2.3" stroke-linecap="round"/>
<path d="M851.6 269.5C851.8 271.2 850.9 274.6 853.0 280.0C855.1 285.4 859.0 294.2 864.0 302.0C869.0 309.8 879.0 318.1 883.0 327.0C887.0 335.9 887.4 350.8 888.3 355.6" fill="none" stroke="#000" stroke-width="2.3" stroke-linecap="round"/>
<path d="M660.7 513.4C661.7 514.7 663.7 518.4 666.6 521.0C669.5 523.6 673.9 526.6 678.3 529.0C682.7 531.4 688.8 533.5 692.9 535.6C697.0 537.7 700.3 539.1 703.2 541.5C706.1 543.9 708.5 547.3 710.5 550.2C712.5 553.1 714.2 557.5 714.9 559.0" fill="none" stroke="#000" stroke-width="2.3" stroke-linecap="round"/>
<path d="M268.5 442.9C269.4 444.2 271.1 448.2 273.7 451.0C276.3 453.8 279.8 457.2 283.9 459.8C288.0 462.4 294.1 464.1 298.5 466.3C302.9 468.5 306.8 470.3 310.2 472.9C313.6 475.5 316.8 478.8 319.0 481.7C321.2 484.6 322.7 489.0 323.4 490.5" fill="none" stroke="#000" stroke-width="2.3" stroke-linecap="round"/>
<path d="M265.8 360.6C264.2 360.3 260.4 357.9 256.2 359.0C251.9 360.1 245.6 362.4 240.3 366.9C235.0 371.4 229.5 378.9 224.3 386.1C219.1 393.3 212.6 404.9 209.2 410.0C205.8 415.1 206.1 414.1 203.7 416.6C201.3 419.2 198.6 423.0 195.0 425.3C191.4 427.6 186.6 429.9 181.9 430.7C177.2 431.5 169.2 430.4 166.6 430.4" fill="none" stroke="#000" stroke-width="2.3" stroke-linecap="round"/>
<text x="395.5" y="185.0">330</text>
<text x="482.2" y="192.0">340</text>
<text x="31.0" y="162.2">350d</text>
<text x="760.1" y="176.1">350e</text>
<text x="885.3" y="99.7">305</text>
<text x="876.8" y="392.7">350a</text>
<text x="110.5" y="447.5">310</text>
<text x="334.2" y="520.2">350c</text>
<text x="724.9" y="588.0">350b</text>
</svg></body></html>
